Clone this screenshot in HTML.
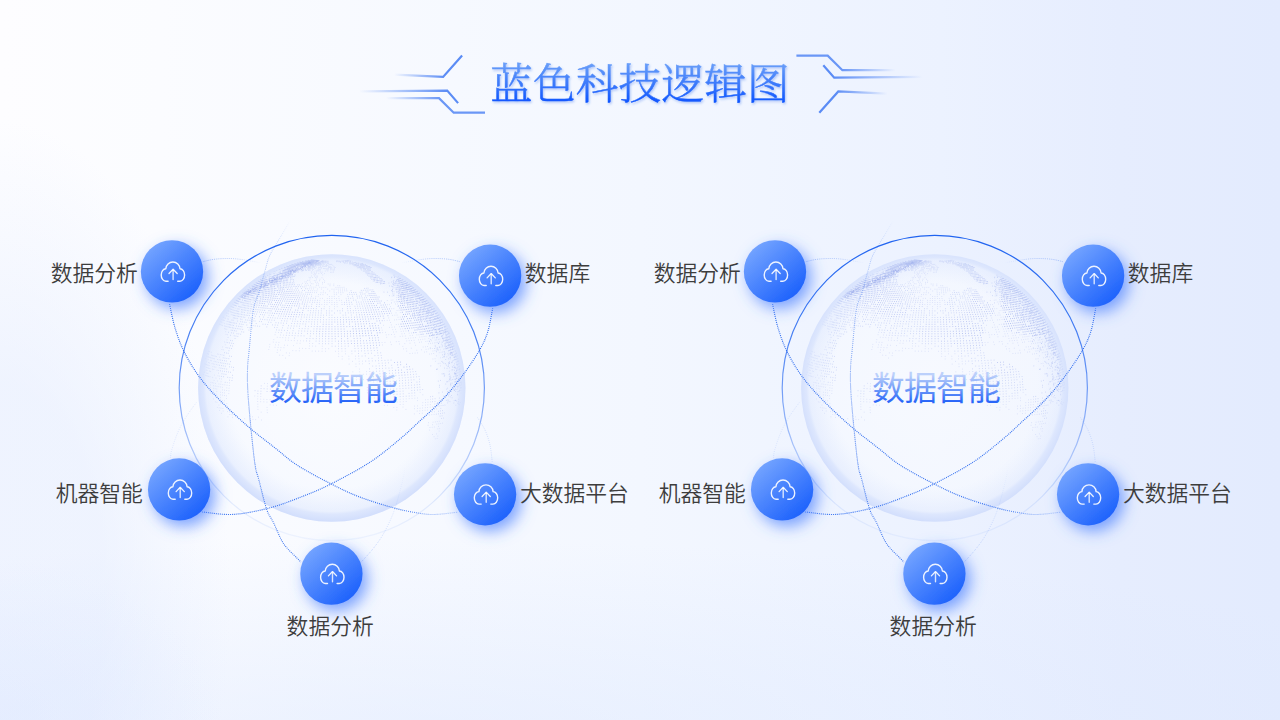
<!DOCTYPE html>
<html lang="zh-CN">
<head>
<meta charset="utf-8">
<title>蓝色科技逻辑图</title>
<style>
html,body{margin:0;padding:0;width:1280px;height:720px;overflow:hidden;background:#f4f7ff;}
body{font-family:"Liberation Sans","Noto Sans CJK SC",sans-serif;}
#stage{position:absolute;left:0;top:0;width:1280px;height:720px;
background:
 radial-gradient(ellipse 220px 170px at 0px 730px, rgba(218,229,254,0.3) 0%, rgba(218,229,254,0) 100%),
 radial-gradient(ellipse 230px 480px at 0px 600px, rgba(220,231,254,0.42) 0%, rgba(220,231,254,0.42) 45%, rgba(220,231,254,0) 100%),
 radial-gradient(ellipse 1100px 200px at 420px 740px, rgba(215,228,254,0.42) 0%, rgba(215,228,254,0) 100%),
 linear-gradient(to right, #fdfdff 0%, #fbfcff 12.5%, #f3f7ff 50%, #ecf2ff 73.5%, #e6edfe 87.5%, #e3ebfe 100%);}
svg{position:absolute;left:0;top:0;}
.sans{font-family:"Liberation Sans","Noto Sans CJK SC",sans-serif;}
.lbl{font-weight:350;}
.serif{font-family:"Liberation Serif","Noto Serif CJK SC",serif;}
</style>
</head>
<body>
<div id="stage">
<svg width="1280" height="720" viewBox="0 0 1280 720">
<defs>
<linearGradient id="titleGrad" gradientUnits="userSpaceOnUse" x1="0" y1="63" x2="0" y2="103">
<stop offset="0" stop-color="#6a9ff9"/><stop offset="0.5" stop-color="#3d7bfb"/><stop offset="1" stop-color="#0d54ff"/>
</linearGradient>
<linearGradient id="centerText" gradientUnits="userSpaceOnUse" x1="0" y1="372" x2="0" y2="403">
<stop offset="0.1" stop-color="#bcd0fb"/><stop offset="0.55" stop-color="#6f9af8"/><stop offset="0.95" stop-color="#2a66f8"/>
</linearGradient>
<linearGradient id="nodeFill" x1="0.15" y1="0.1" x2="0.85" y2="0.9">
<stop offset="0" stop-color="#74a4ff"/><stop offset="1" stop-color="#1c61fc"/>
</linearGradient>
<filter id="nodeShadow" x="-50%" y="-50%" width="200%" height="200%">
<feDropShadow dx="5" dy="6" stdDeviation="7.5" flood-color="#4078ff" flood-opacity="0.68"/>
</filter>
<filter id="titleShadow" x="-10%" y="-20%" width="120%" height="150%">
<feDropShadow dx="1" dy="1.5" stdDeviation="1.2" flood-color="#2a63e8" flood-opacity="0.35"/>
</filter>
<radialGradient id="globeFill" cx="0.5" cy="0.5" r="0.5">
<stop offset="0" stop-color="#fbfcff" stop-opacity="0.7"/>
<stop offset="0.8" stop-color="#f6f9ff" stop-opacity="0.75"/>
<stop offset="1" stop-color="#eef3ff" stop-opacity="0.95"/>
</radialGradient>
<radialGradient id="globeRim" cx="0.5" cy="0.492" r="0.508">
<stop offset="0.76" stop-color="#dce6fd" stop-opacity="0"/>
<stop offset="0.925" stop-color="#dae5fd" stop-opacity="0.35"/>
<stop offset="0.945" stop-color="#d8e3fd" stop-opacity="0.78"/>
<stop offset="1" stop-color="#cfdcfc" stop-opacity="0.92"/>
</radialGradient>
<linearGradient id="ringStroke" x1="0" y1="0" x2="0" y2="1">
<stop offset="0" stop-color="#1f63f0" stop-opacity="1"/>
<stop offset="0.25" stop-color="#2668f0" stop-opacity="0.9"/>
<stop offset="0.5" stop-color="#3270f1" stop-opacity="0.68"/>
<stop offset="0.72" stop-color="#4d82f3" stop-opacity="0.4"/>
<stop offset="0.88" stop-color="#5a8cf5" stop-opacity="0.15"/>
<stop offset="1" stop-color="#5a8cf5" stop-opacity="0.07"/>
</linearGradient>
<linearGradient id="fA1" gradientUnits="userSpaceOnUse" x1="203" y1="0" x2="262" y2="0">
<stop offset="0" stop-color="#6a95f6" stop-opacity="0.6"/><stop offset="0.6" stop-color="#6a95f6" stop-opacity="0.4"/><stop offset="1" stop-color="#6a95f6" stop-opacity="0"/>
</linearGradient>
<linearGradient id="fA2" gradientUnits="userSpaceOnUse" x1="460" y1="0" x2="401" y2="0">
<stop offset="0" stop-color="#6a95f6" stop-opacity="0.6"/><stop offset="0.6" stop-color="#6a95f6" stop-opacity="0.4"/><stop offset="1" stop-color="#6a95f6" stop-opacity="0"/>
</linearGradient>
<linearGradient id="fD" gradientUnits="userSpaceOnUse" x1="0" y1="562" x2="0" y2="465">
<stop offset="0" stop-color="#6a95f6" stop-opacity="0.45"/><stop offset="0.5" stop-color="#6a95f6" stop-opacity="0.25"/><stop offset="1" stop-color="#6a95f6" stop-opacity="0"/>
</linearGradient>
<linearGradient id="orb1Stroke" gradientUnits="userSpaceOnUse" x1="160" y1="0" x2="460" y2="0">
<stop offset="0" stop-color="#2f6df0" stop-opacity="1"/>
<stop offset="0.78" stop-color="#2f6df0" stop-opacity="1"/>
<stop offset="0.9" stop-color="#4a80f3" stop-opacity="0.6"/>
<stop offset="1" stop-color="#5a8cf5" stop-opacity="0.45"/>
</linearGradient>
<linearGradient id="orb3Stroke" gradientUnits="userSpaceOnUse" x1="0" y1="220" x2="0" y2="560">
<stop offset="0" stop-color="#4a7ef2" stop-opacity="0"/>
<stop offset="0.1" stop-color="#4a7ef2" stop-opacity="0.35"/>
<stop offset="0.35" stop-color="#3b74ee" stop-opacity="0.6"/>
<stop offset="0.7" stop-color="#336eee" stop-opacity="0.95"/>
<stop offset="1" stop-color="#336eee" stop-opacity="0.95"/>
</linearGradient>
<linearGradient id="fadeL1" gradientUnits="userSpaceOnUse" x1="394" y1="0" x2="445" y2="0">
<stop offset="0" stop-color="#5b8cf5" stop-opacity="0"/><stop offset="1" stop-color="#5b8cf5" stop-opacity="1"/>
</linearGradient>
<linearGradient id="fadeL2" gradientUnits="userSpaceOnUse" x1="359" y1="0" x2="448" y2="0">
<stop offset="0" stop-color="#5b8cf5" stop-opacity="0"/><stop offset="1" stop-color="#5b8cf5" stop-opacity="1"/>
</linearGradient>
<linearGradient id="fadeL3" gradientUnits="userSpaceOnUse" x1="386" y1="0" x2="440" y2="0">
<stop offset="0" stop-color="#5b8cf5" stop-opacity="0"/><stop offset="1" stop-color="#5b8cf5" stop-opacity="0.9"/>
</linearGradient>
</defs>
<g fill="none" stroke-width="2.2" stroke-linejoin="miter">
<path d="M394.4 74.7L443.1 76.9L462.1 55.6" stroke="url(#fadeL1)"/>
<path d="M359.4 91.4L447.2 90.6L458.1 103.1" stroke="url(#fadeL2)"/>
<path d="M386.2 98.1H439L453.7 112.7H485" stroke="url(#fadeL3)"/>
</g>
<g transform="rotate(180 640.7 84.15)"><g fill="none" stroke-width="2.2" stroke-linejoin="miter">
<path d="M394.4 74.7L443.1 76.9L462.1 55.6" stroke="url(#fadeL1)"/>
<path d="M359.4 91.4L447.2 90.6L458.1 103.1" stroke="url(#fadeL2)"/>
<path d="M386.2 98.1H439L453.7 112.7H485" stroke="url(#fadeL3)"/>
</g></g>
<text x="640" y="98.5" text-anchor="middle" font-size="42.6" letter-spacing="0.2" font-weight="300" fill="url(#titleGrad)" stroke="url(#titleGrad)" stroke-width="0.45" filter="url(#titleShadow)" class="serif">蓝色科技逻辑图</text>
<g transform="translate(0 0)">
<circle cx="331.8" cy="388.0" r="133.7" fill="url(#globeFill)"/>
<g id="globeDots" fill="none" stroke="#8598e6" stroke-width="0.75"><path d="M219.9 321.6h.7M221.3 319.3h.7M222.7 317.1h.7M228.9 308.4h.7M201.8 382.2h.7M202.6 374.2h.7M203.8 366.4h.7M204.3 363.8h.7M205.4 358.6h.7M206.1 356.0h.7M206.8 353.5h.7M219.1 324.2h.7M223.2 317.4h.7M226.2 313.0h.7M227.8 310.8h.7M202.7 379.9h.7M203.3 374.6h.7M203.6 372.0h.7M205.0 364.1h.7M207.5 353.8h.7M208.3 351.3h.7M219.8 324.5h.7M221.1 322.2h.7M222.4 319.9h.7M226.8 313.3h.7M228.4 311.1h.7M229.9 309.0h.7M204.4 372.3h.7M205.8 364.5h.7M206.3 361.9h.7M207.6 356.7h.7M208.3 354.2h.7M209.0 351.6h.7M223.1 320.2h.7M224.5 318.0h.7M226.0 315.7h.7M230.6 309.3h.7M267.4 275.6h.7M269.6 274.3h.7M205.0 375.3h.7M205.8 370.1h.7M206.2 367.5h.7M206.7 364.9h.7M207.8 359.7h.7M208.5 357.1h.7M221.3 325.1h.7M222.6 322.8h.7M223.9 320.5h.7M225.3 318.3h.7M226.8 316.0h.7M228.2 313.8h.7M229.8 311.7h.7M231.3 309.5h.7M265.6 277.2h.7M267.8 275.8h.7M270.1 274.4h.7M279.2 269.5h.7M206.0 375.7h.7M206.4 373.1h.7M206.8 370.4h.7M207.2 367.8h.7M207.7 365.2h.7M208.2 362.6h.7M209.5 357.4h.7M210.9 352.3h.7M222.1 325.4h.7M230.6 312.0h.7M232.1 309.8h.7M233.7 307.7h.7M266.2 277.4h.7M270.6 274.6h.7M275.0 272.0h.7M279.6 269.6h.7M207.1 376.0h.7M207.5 373.4h.7M208.3 368.2h.7M208.8 365.6h.7M209.3 363.0h.7M209.9 360.4h.7M210.5 357.8h.7M211.2 355.2h.7M224.4 323.4h.7M227.1 318.9h.7M228.5 316.6h.7M231.4 312.2h.7M233.0 310.1h.7M268.9 276.2h.7M273.3 273.5h.7M280.1 269.8h.7M282.4 268.6h.7M208.3 376.4h.7M209.0 371.1h.7M209.5 368.5h.7M211.1 360.7h.7M211.7 358.1h.7M212.4 355.6h.7M224.1 326.0h.7M226.7 321.4h.7M228.1 319.2h.7M230.9 314.7h.7M232.4 312.5h.7M233.9 310.4h.7M235.5 308.3h.7M269.5 276.3h.7M273.9 273.6h.7M209.6 376.7h.7M210.3 371.5h.7M211.7 363.6h.7M212.9 358.5h.7M213.6 355.9h.7M224.0 328.7h.7M225.3 326.3h.7M226.5 324.0h.7M227.8 321.7h.7M232.0 315.0h.7M233.4 312.8h.7M234.9 310.6h.7M270.1 276.5h.7M274.5 273.8h.7M283.4 268.9h.7M210.0 392.9h.7M210.1 390.3h.7M210.1 387.6h.7M210.3 385.0h.7M210.5 382.4h.7M212.1 369.2h.7M212.6 366.6h.7M213.1 364.0h.7M213.7 361.4h.7M214.3 358.8h.7M214.9 356.2h.7M225.2 329.0h.7M226.4 326.6h.7M227.7 324.3h.7M273.0 275.3h.7M279.5 271.4h.7M281.7 270.2h.7M283.9 269.0h.7M211.9 382.7h.7M212.4 377.4h.7M213.5 369.5h.7M214.0 366.9h.7M214.5 364.3h.7M215.1 361.7h.7M216.3 356.6h.7M217.0 354.0h.7M225.4 331.7h.7M226.5 329.3h.7M273.7 275.5h.7M275.8 274.1h.7M277.9 272.8h.7M280.1 271.5h.7M282.3 270.3h.7M213.1 398.9h.7M213.0 393.6h.7M213.1 391.0h.7M213.2 388.3h.7M213.3 385.7h.7M213.5 383.0h.7M213.7 380.4h.7M214.3 375.1h.7M215.5 367.2h.7M216.0 364.6h.7M216.6 362.0h.7M217.2 359.5h.7M218.5 354.3h.7M225.7 334.4h.7M276.5 274.3h.7M278.6 273.0h.7M214.9 401.9h.7M214.7 393.9h.7M214.8 388.7h.7M214.9 386.0h.7M215.1 383.4h.7M215.6 378.1h.7M216.7 370.2h.7M217.6 365.0h.7M218.2 362.4h.7M218.8 359.8h.7M219.4 357.2h.7M220.1 354.6h.7M221.6 349.5h.7M222.4 347.0h.7M224.2 342.0h.7M227.1 334.7h.7M216.9 407.4h.7M216.6 402.2h.7M216.4 394.3h.7M216.5 391.6h.7M216.5 389.0h.7M216.7 386.3h.7M217.0 381.0h.7M217.6 375.8h.7M218.0 373.1h.7M218.4 370.5h.7M218.8 367.9h.7M221.7 354.9h.7M223.2 349.8h.7M224.9 344.8h.7M225.8 342.3h.7M226.7 339.9h.7M219.0 410.4h.7M218.8 407.8h.7M218.6 405.1h.7M218.5 386.7h.7M218.6 384.0h.7M219.1 378.7h.7M219.4 376.1h.7M221.2 413.3h.7M220.6 408.1h.7M220.3 402.8h.7M220.1 397.6h.7M220.1 394.9h.7M220.2 392.3h.7M220.4 387.0h.7M220.5 384.3h.7M220.7 381.7h.7M221.0 379.0h.7M222.8 411.0h.7M222.6 408.4h.7M222.2 400.5h.7M222.1 395.2h.7M222.1 392.6h.7M222.2 389.9h.7M222.3 387.3h.7M222.5 384.6h.7M224.2 400.8h.7M224.2 395.5h.7M224.2 392.9h.7M224.3 390.2h.7M224.5 384.9h.7M227.6 416.8h.7M227.0 411.6h.7M226.8 409.0h.7M226.6 406.4h.7M226.5 403.7h.7M226.3 398.5h.7M226.3 395.8h.7M226.4 390.5h.7M226.5 387.9h.7M226.7 385.2h.7M226.9 382.6h.7M229.5 414.5h.7M229.2 411.9h.7M229.0 409.3h.7M228.5 393.5h.7M228.6 390.8h.7M228.7 388.2h.7M228.9 385.5h.7M229.1 382.9h.7M232.0 417.4h.7M231.7 414.8h.7M231.5 412.2h.7M293.0 270.5h.7M294.8 269.3h.7M296.6 268.2h.7M298.5 267.1h.7M302.2 265.1h.7M297.5 268.3h.7M301.1 266.1h.7M302.9 265.2h.7M304.8 264.2h.7M293.2 272.0h.7M298.4 268.4h.7M300.1 267.3h.7M301.9 266.2h.7M303.7 265.2h.7M294.2 272.1h.7M297.6 269.6h.7M299.3 268.5h.7M301.0 267.4h.7M302.7 266.3h.7M306.2 264.4h.7M244.4 418.7h.7M295.3 272.2h.7M303.6 266.4h.7M305.2 265.4h.7M306.9 264.4h.7M299.6 269.8h.7M304.4 266.5h.7M306.0 265.5h.7M307.7 264.5h.7M250.1 421.7h.7M249.8 419.2h.7M297.6 272.4h.7M300.6 269.9h.7M302.2 268.7h.7M305.3 266.5h.7M306.9 265.5h.7M308.5 264.6h.7M252.6 419.4h.7M252.3 416.8h.7M301.7 270.0h.7M303.2 268.8h.7M307.7 265.6h.7M255.4 419.6h.7M254.5 396.0h.7M302.7 270.1h.7M304.2 268.9h.7M258.1 417.2h.7M257.6 409.4h.7M257.5 406.8h.7M257.5 404.2h.7M257.4 401.5h.7M257.4 398.9h.7M257.5 396.3h.7M261.3 420.0h.7M260.8 412.2h.7M260.4 401.7h.7M260.4 399.1h.7M260.5 396.5h.7M263.5 401.9h.7M263.5 399.3h.7M264.0 383.4h.7M268.5 349.5h.7M269.0 346.9h.7M269.5 344.4h.7M319.2 260.7h.7M266.9 412.6h.7M266.8 410.0h.7M266.7 407.4h.7M266.6 402.1h.7M266.6 399.5h.7M266.9 386.2h.7M267.1 383.6h.7M272.9 342.1h.7M273.5 339.6h.7M274.7 334.7h.7M275.4 332.3h.7M269.8 404.9h.7M269.7 399.7h.7M269.8 391.7h.7M269.9 389.1h.7M274.7 347.3h.7M275.2 344.8h.7M275.8 342.3h.7M276.9 337.3h.7M278.1 332.5h.7M317.9 262.3h.7M272.9 405.1h.7M272.9 402.5h.7M272.9 399.8h.7M272.9 397.2h.7M273.0 394.5h.7M273.2 386.6h.7M273.4 383.9h.7M276.8 352.5h.7M277.2 350.0h.7M277.7 347.4h.7M278.1 344.9h.7M278.6 342.4h.7M279.7 337.5h.7M280.2 335.0h.7M309.6 270.5h.7M276.2 405.3h.7M276.2 394.7h.7M276.3 392.0h.7M276.3 389.4h.7M279.4 355.2h.7M280.2 350.1h.7M280.6 347.6h.7M282.5 337.6h.7M283.1 335.2h.7M301.0 285.0h.7M301.9 283.4h.7M311.9 269.4h.7M279.4 400.1h.7M279.5 394.9h.7M279.5 392.2h.7M279.6 389.5h.7M279.8 384.2h.7M280.0 381.6h.7M282.5 355.4h.7M283.6 347.7h.7M284.1 345.2h.7M285.0 340.2h.7M285.4 337.8h.7M304.6 281.9h.7M311.1 271.9h.7M312.0 270.6h.7M313.0 269.4h.7M314.0 268.3h.7M282.8 395.0h.7M283.1 384.4h.7M285.3 358.1h.7M285.9 352.9h.7M287.1 345.3h.7M287.9 340.3h.7M288.4 337.9h.7M304.6 285.2h.7M305.4 283.5h.7M306.3 281.9h.7M307.1 280.4h.7M308.8 277.4h.7M311.5 273.2h.7M315.1 268.3h.7M316.0 267.2h.7M322.7 260.8h.7M288.8 355.6h.7M289.1 353.1h.7M290.9 340.5h.7M305.7 286.9h.7M306.5 285.3h.7M307.2 283.6h.7M308.8 280.4h.7M309.6 278.9h.7M310.4 277.4h.7M311.2 276.0h.7M313.7 272.0h.7M322.4 261.6h.7M323.3 260.9h.7M292.5 350.6h.7M293.2 345.6h.7M293.9 340.6h.7M308.3 285.3h.7M309.8 282.1h.7M312.0 277.5h.7M313.5 274.7h.7M314.2 273.3h.7M315.8 270.8h.7M318.2 267.3h.7M319.8 265.2h.7M322.2 262.5h.7M323.0 261.7h.7M295.7 350.7h.7M296.6 343.2h.7M297.0 340.7h.7M308.9 288.8h.7M309.6 287.1h.7M310.2 285.4h.7M310.9 283.7h.7M314.2 276.1h.7M314.9 274.7h.7M315.6 273.4h.7M316.3 272.1h.7M317.1 270.8h.7M317.8 269.6h.7M318.5 268.4h.7M319.2 267.3h.7M320.0 266.3h.7M320.7 265.2h.7M321.5 264.3h.7M322.2 263.4h.7M323.0 262.5h.7M323.7 261.7h.7M324.5 260.9h.7M298.9 350.8h.7M299.2 348.3h.7M299.7 343.3h.7M300.0 340.8h.7M310.4 290.7h.7M310.9 288.9h.7M311.5 287.1h.7M312.7 283.8h.7M313.9 280.6h.7M315.1 277.6h.7M315.8 276.1h.7M318.3 270.8h.7M319.0 269.6h.7M320.3 267.3h.7M323.0 263.4h.7M324.4 261.7h.7M325.1 260.9h.7M302.3 348.4h.7M303.1 340.9h.7M311.4 294.4h.7M311.9 292.5h.7M312.4 290.7h.7M313.0 288.9h.7M313.5 287.2h.7M315.1 282.2h.7M315.6 280.6h.7M316.2 279.1h.7M316.7 277.6h.7M317.3 276.2h.7M318.5 273.4h.7M319.6 270.9h.7M320.2 269.7h.7M320.8 268.5h.7M321.4 267.4h.7M322.0 266.3h.7M322.6 265.3h.7M323.2 264.3h.7M324.5 262.5h.7M325.1 261.7h.7M305.5 348.5h.7M314.1 292.6h.7M314.5 290.8h.7M315.5 287.2h.7M315.9 285.5h.7M316.4 283.9h.7M316.9 282.3h.7M320.4 272.2h.7M323.1 266.3h.7M324.2 264.3h.7M324.7 263.4h.7M325.3 262.6h.7M325.8 261.7h.7M326.4 261.0h.7M308.8 348.5h.7M309.0 346.0h.7M309.2 343.5h.7M315.5 296.4h.7M316.3 292.6h.7M316.6 290.8h.7M317.0 289.0h.7M317.9 285.6h.7M318.3 283.9h.7M319.1 280.7h.7M319.6 279.2h.7M321.3 273.5h.7M321.8 272.2h.7M323.2 268.5h.7M324.1 266.4h.7M326.0 262.6h.7M311.8 351.1h.7M312.2 346.1h.7M312.4 343.5h.7M317.8 296.4h.7M318.1 294.5h.7M319.4 287.3h.7M321.6 277.7h.7M322.4 274.9h.7M324.4 268.6h.7M325.2 266.4h.7M325.6 265.4h.7M326.0 264.4h.7M327.2 261.8h.7M327.6 261.0h.7M315.1 351.2h.7M315.4 346.1h.7M319.3 302.4h.7M319.5 300.4h.7M319.8 298.4h.7M320.3 294.6h.7M320.6 292.7h.7M321.2 289.1h.7M321.5 287.4h.7M322.0 284.0h.7M322.3 282.4h.7M323.0 279.3h.7M324.2 273.6h.7M324.9 271.0h.7M325.5 268.6h.7M326.2 266.4h.7M326.5 265.4h.7M327.2 263.5h.7M327.6 262.6h.7M327.9 261.8h.7M318.4 351.2h.7M321.5 304.5h.7M322.1 298.4h.7M322.6 294.6h.7M322.8 292.7h.7M323.0 290.9h.7M323.5 287.4h.7M324.2 282.4h.7M324.4 280.8h.7M326.5 269.8h.7M326.7 268.6h.7M327.5 265.4h.7M328.1 263.5h.7M321.7 351.3h.7M321.8 348.7h.7M321.9 346.2h.7M323.9 306.6h.7M324.0 304.5h.7M324.2 302.4h.7M324.3 300.4h.7M325.0 292.8h.7M325.5 287.4h.7M327.5 271.0h.7M327.7 269.8h.7M327.9 268.6h.7M328.1 267.5h.7M328.3 266.4h.7M328.7 264.4h.7M325.0 351.3h.7M325.1 348.7h.7M326.6 304.5h.7M326.7 302.5h.7M326.8 300.5h.7M326.9 298.5h.7M327.1 294.6h.7M327.4 289.2h.7M327.8 284.0h.7M329.3 267.5h.7M329.4 266.4h.7M329.7 264.4h.7M328.4 348.7h.7M329.0 308.7h.7M329.0 306.6h.7M329.1 302.5h.7M329.2 300.5h.7M329.2 298.5h.7M329.3 296.5h.7M329.4 291.0h.7M329.6 285.7h.7M329.7 284.1h.7M330.1 272.3h.7M330.3 269.8h.7M330.3 268.6h.7M330.4 267.5h.7M330.5 266.4h.7M330.6 264.4h.7M331.6 304.5h.7M331.6 302.5h.7M331.6 300.5h.7M331.6 298.5h.7M331.6 296.6h.7M331.6 289.2h.7M331.5 272.3h.7M331.5 269.8h.7M331.5 268.6h.7M331.5 267.5h.7M331.5 264.4h.7M335.0 351.3h.7M334.2 308.7h.7M334.2 306.6h.7M334.1 304.5h.7M334.1 302.5h.7M334.0 298.5h.7M333.9 296.5h.7M333.9 294.6h.7M333.8 292.8h.7M333.7 291.0h.7M333.7 289.2h.7M333.5 285.7h.7M333.5 284.1h.7M332.9 272.3h.7M332.9 271.0h.7M332.8 269.8h.7M332.5 265.4h.7M338.4 356.4h.7M338.4 353.8h.7M338.3 351.3h.7M336.8 306.6h.7M336.7 304.5h.7M336.6 302.5h.7M336.5 300.5h.7M336.3 298.5h.7M336.1 294.6h.7M336.0 292.8h.7M335.8 289.2h.7M335.6 287.4h.7M334.1 269.8h.7M333.9 268.6h.7M333.8 267.5h.7M333.6 266.4h.7M341.8 359.0h.7M341.8 356.4h.7M341.6 351.2h.7M338.9 300.4h.7M338.7 298.5h.7M338.5 296.5h.7M338.2 292.8h.7M338.0 290.9h.7M337.8 289.1h.7M337.7 287.4h.7M337.5 285.7h.7M334.9 267.5h.7M345.0 353.8h.7M344.9 351.2h.7M341.5 302.4h.7M341.3 300.4h.7M340.6 294.6h.7M340.4 292.7h.7M340.2 290.9h.7M339.9 289.1h.7M339.7 287.4h.7M339.4 285.7h.7M348.8 364.1h.7M348.6 358.9h.7M348.5 356.3h.7M342.6 292.7h.7M342.3 290.9h.7M342.0 289.1h.7M341.7 287.4h.7M352.5 371.9h.7M352.1 361.4h.7M351.6 353.7h.7M345.8 298.4h.7M344.4 290.8h.7M344.1 289.1h.7M343.7 287.3h.7M356.3 379.8h.7M356.2 377.1h.7M355.7 366.6h.7M355.6 364.0h.7M355.3 358.8h.7M355.1 356.2h.7M347.3 294.5h.7M346.5 290.8h.7M346.1 289.0h.7M336.5 261.7h.7M336.0 261.0h.7M359.7 379.7h.7M359.6 377.1h.7M359.5 374.4h.7M359.4 371.8h.7M359.2 369.1h.7M358.9 363.9h.7M358.8 361.3h.7M358.6 358.7h.7M349.1 292.6h.7M336.6 261.0h.7M363.1 379.6h.7M362.9 374.3h.7M362.3 363.8h.7M362.1 361.2h.7M337.9 261.7h.7M337.3 260.9h.7M367.0 392.8h.7M366.9 390.1h.7M366.9 387.5h.7M366.6 379.5h.7M366.3 374.2h.7M366.1 371.6h.7M337.9 260.9h.7M370.5 398.0h.7M370.3 390.0h.7M370.2 384.7h.7M370.0 379.4h.7M369.8 376.8h.7M369.7 374.1h.7M340.0 262.5h.7M339.3 261.7h.7M373.9 397.9h.7M373.8 395.2h.7M373.8 392.6h.7M373.6 384.6h.7M373.4 382.0h.7M373.3 379.3h.7M339.9 261.7h.7M339.1 260.9h.7M377.3 403.0h.7M377.3 400.4h.7M377.2 392.5h.7M377.0 387.1h.7M376.9 384.5h.7M376.8 381.8h.7M340.6 261.6h.7M380.6 400.3h.7M380.6 395.0h.7M380.5 392.3h.7M380.4 389.7h.7M380.3 387.0h.7M383.9 405.4h.7M383.9 400.1h.7M383.9 397.5h.7M383.9 394.8h.7M383.8 392.2h.7M344.0 263.2h.7M343.0 262.4h.7M342.0 261.6h.7M340.9 260.8h.7M387.1 405.3h.7M387.2 400.0h.7M387.1 394.7h.7M382.2 345.0h.7M381.7 342.5h.7M344.8 263.2h.7M343.7 262.3h.7M390.4 402.5h.7M384.6 342.4h.7M382.4 332.6h.7M381.8 330.2h.7M381.2 327.8h.7M343.3 261.5h.7M342.1 260.8h.7M393.5 407.5h.7M393.6 399.6h.7M393.6 397.0h.7M386.4 337.3h.7M385.8 334.9h.7M385.2 332.4h.7M383.2 325.3h.7M346.3 263.1h.7M345.1 262.3h.7M396.5 410.0h.7M396.6 407.4h.7M396.7 402.1h.7M396.7 399.5h.7M390.9 344.6h.7M390.3 342.1h.7M388.5 334.7h.7M384.3 320.6h.7M347.1 263.1h.7M343.2 260.7h.7M399.8 404.5h.7M399.8 401.9h.7M399.8 399.3h.7M391.2 334.5h.7M389.1 327.4h.7M386.8 320.4h.7M349.1 263.9h.7M345.1 261.4h.7M343.8 260.7h.7M402.7 407.0h.7M402.8 404.4h.7M402.9 401.7h.7M402.9 399.1h.7M395.9 341.7h.7M394.6 336.8h.7M393.9 334.4h.7M393.2 332.0h.7M392.5 329.6h.7M391.7 327.2h.7M390.9 324.9h.7M390.1 322.5h.7M389.3 320.2h.7M388.4 318.0h.7M349.9 263.9h.7M347.1 262.1h.7M345.7 261.4h.7M405.6 409.4h.7M405.8 401.5h.7M405.8 398.9h.7M399.2 344.0h.7M398.6 341.5h.7M395.8 331.8h.7M395.0 329.4h.7M394.2 327.0h.7M353.6 265.7h.7M352.1 264.7h.7M350.7 263.8h.7M349.3 262.9h.7M346.3 261.3h.7M344.9 260.6h.7M408.8 398.7h.7M403.1 348.9h.7M402.5 346.4h.7M399.8 336.4h.7M395.9 324.5h.7M394.1 319.9h.7M392.2 315.4h.7M391.3 313.2h.7M387.1 304.7h.7M355.9 266.7h.7M354.4 265.7h.7M353.0 264.7h.7M351.5 263.8h.7M350.0 262.9h.7M346.9 261.3h.7M345.4 260.6h.7M411.7 398.4h.7M411.6 395.8h.7M406.4 351.2h.7M405.8 348.7h.7M404.5 343.6h.7M402.4 336.2h.7M401.6 333.8h.7M400.8 331.4h.7M400.0 329.0h.7M399.1 326.7h.7M398.3 324.3h.7M396.4 319.7h.7M394.5 315.2h.7M391.4 308.7h.7M390.3 306.6h.7M389.2 304.6h.7M386.9 300.5h.7M353.8 264.6h.7M352.2 263.7h.7M349.1 262.0h.7M347.5 261.2h.7M413.9 413.9h.7M414.2 408.7h.7M414.3 406.1h.7M414.5 398.2h.7M414.5 395.6h.7M409.6 353.5h.7M406.4 340.9h.7M405.6 338.5h.7M404.9 336.0h.7M404.1 333.6h.7M403.2 331.2h.7M402.4 328.8h.7M398.7 319.5h.7M397.7 317.3h.7M396.7 315.1h.7M395.7 312.9h.7M393.5 308.6h.7M352.9 263.6h.7M351.3 262.8h.7M349.7 262.0h.7M348.1 261.2h.7M346.4 260.5h.7M416.8 411.1h.7M417.0 408.5h.7M417.1 405.9h.7M417.2 400.6h.7M417.2 398.0h.7M412.2 353.3h.7M410.9 348.2h.7M409.6 343.2h.7M408.8 340.7h.7M408.1 338.3h.7M405.6 331.0h.7M399.9 317.1h.7M396.7 310.5h.7M390.8 300.2h.7M353.7 263.6h.7M352.0 262.7h.7M350.3 261.9h.7M346.9 260.4h.7M419.3 413.5h.7M419.5 410.9h.7M419.7 408.2h.7M419.8 392.4h.7M414.7 353.1h.7M411.3 340.5h.7M410.5 338.0h.7M409.7 335.6h.7M408.8 333.2h.7M399.9 312.5h.7M398.7 310.3h.7M395.2 304.0h.7M393.9 302.0h.7M392.6 300.0h.7M347.4 260.4h.7M421.9 413.2h.7M422.1 410.6h.7M422.3 408.0h.7M422.4 405.4h.7M422.5 402.7h.7M422.5 394.8h.7M417.2 352.9h.7M416.5 350.3h.7M415.2 345.3h.7M414.4 342.8h.7M413.7 340.3h.7M412.8 337.8h.7M412.0 335.4h.7M411.1 333.0h.7M397.0 303.9h.7M395.8 301.8h.7M391.8 296.0h.7M353.3 262.6h.7M349.7 261.0h.7M347.9 260.3h.7M424.0 418.1h.7M424.7 410.3h.7M424.9 407.7h.7M425.0 405.1h.7M425.1 402.5h.7M425.1 399.8h.7M415.1 337.6h.7M396.2 299.7h.7M393.5 295.8h.7M392.0 293.9h.7M353.9 262.5h.7M352.0 261.7h.7M350.2 261.0h.7M348.4 260.3h.7M427.2 410.1h.7M427.3 407.5h.7M427.5 404.8h.7M427.6 402.2h.7M427.6 399.6h.7M421.3 349.8h.7M419.0 342.3h.7M418.2 339.8h.7M416.5 334.9h.7M396.5 297.5h.7M393.7 293.8h.7M392.2 291.9h.7M354.5 262.5h.7M350.7 260.9h.7M427.7 425.3h.7M428.2 422.7h.7M429.1 415.0h.7M429.8 407.2h.7M429.9 404.6h.7M430.0 401.9h.7M430.0 399.3h.7M424.2 352.1h.7M422.8 347.0h.7M421.2 342.0h.7M420.4 339.6h.7M419.5 337.1h.7M418.6 334.7h.7M396.7 295.4h.7M393.7 291.7h.7M392.2 290.0h.7M357.0 263.2h.7M355.1 262.4h.7M349.2 260.2h.7M429.1 430.1h.7M429.6 427.5h.7M431.5 414.7h.7M431.7 412.1h.7M431.9 409.5h.7M432.1 406.9h.7M426.4 351.8h.7M425.7 349.3h.7M425.0 346.8h.7M422.5 339.3h.7M421.6 336.8h.7M392.0 288.0h.7M357.6 263.2h.7M355.6 262.3h.7M431.8 427.3h.7M432.3 424.7h.7M432.7 422.2h.7M433.7 414.4h.7M434.0 411.8h.7M429.3 354.1h.7M427.9 349.0h.7M427.1 346.5h.7M425.5 341.5h.7M424.6 339.0h.7M423.7 336.6h.7M395.0 289.6h.7M393.4 287.9h.7M358.2 263.1h.7M432.3 434.5h.7M433.9 427.0h.7M434.9 421.9h.7M432.6 359.0h.7M431.3 353.8h.7M429.9 348.7h.7M428.3 343.7h.7M427.5 341.2h.7M425.6 336.3h.7M394.7 287.7h.7M393.0 286.0h.7M358.7 263.0h.7M433.7 436.7h.7M436.5 424.1h.7M436.9 421.6h.7M435.2 361.3h.7M434.7 358.7h.7M433.4 353.5h.7M432.6 351.0h.7M431.9 348.5h.7M430.3 343.4h.7M429.4 341.0h.7M428.5 338.5h.7M396.0 287.5h.7M434.9 438.8h.7M436.3 433.9h.7M437.5 428.9h.7M438.0 426.4h.7M438.5 423.8h.7M438.9 421.3h.7M437.8 363.6h.7M436.0 355.8h.7M434.6 350.7h.7M432.2 343.2h.7M431.3 340.7h.7M395.4 285.6h.7M436.8 438.5h.7M437.5 436.1h.7M438.8 431.1h.7M439.4 428.6h.7M440.4 423.5h.7M440.2 365.9h.7M439.7 363.3h.7M435.6 347.9h.7M434.8 345.4h.7M434.0 342.9h.7M432.1 337.9h.7M442.3 423.2h.7M440.3 357.8h.7M438.9 352.7h.7M438.2 350.1h.7M437.4 347.6h.7M435.7 342.6h.7M434.8 340.1h.7M433.8 337.7h.7M395.8 283.6h.7M442.0 357.5h.7M440.7 352.3h.7M439.9 349.8h.7M439.1 347.3h.7M437.3 342.3h.7M436.4 339.8h.7M396.8 283.4h.7M443.7 357.2h.7M442.3 352.0h.7M440.7 347.0h.7M438.0 339.5h.7M437.0 337.1h.7M395.8 281.7h.7M444.6 354.3h.7M443.8 351.7h.7M443.0 349.2h.7M442.2 346.7h.7M441.3 344.2h.7M439.5 339.2h.7M444.5 348.9h.7M441.8 341.4h.7M447.4 353.6h.7M445.9 348.5h.7M444.1 343.5h.7M448.7 353.3h.7M396.8 277.4h.7M397.3 277.2h.7M460.7 393.0h.7" stroke-opacity="0.36"/><path d="M230.5 306.3h.7M232.2 304.2h.7M231.0 306.6h.7M233.2 304.8h.7M232.2 307.1h.7M233.9 305.1h.7M232.9 307.4h.7M234.6 305.4h.7M235.3 305.6h.7M237.0 303.6h.7M236.2 305.9h.7M237.8 303.8h.7M238.1 306.4h.7M241.3 302.3h.7M229.0 322.0h.7M233.1 315.3h.7M234.5 313.1h.7M236.0 310.9h.7M237.5 308.8h.7M239.1 306.7h.7M242.4 302.6h.7M227.7 326.9h.7M228.9 324.6h.7M230.2 322.3h.7M231.5 320.0h.7M232.9 317.8h.7M234.3 315.5h.7M235.7 313.4h.7M237.2 311.2h.7M238.7 309.1h.7M240.2 307.0h.7M241.8 304.9h.7M243.4 302.9h.7M229.1 327.2h.7M230.3 324.9h.7M231.5 322.6h.7M232.8 320.3h.7M234.2 318.0h.7M235.5 315.8h.7M237.0 313.6h.7M238.4 311.5h.7M241.4 307.2h.7M243.0 305.1h.7M244.6 303.1h.7M246.2 301.1h.7M228.2 332.3h.7M230.5 327.5h.7M231.7 325.2h.7M232.9 322.9h.7M235.5 318.3h.7M236.9 316.1h.7M238.3 313.9h.7M241.2 309.6h.7M242.7 307.5h.7M244.2 305.4h.7M245.8 303.3h.7M247.4 301.3h.7M219.3 365.3h.7M219.9 362.7h.7M220.4 360.1h.7M227.7 337.4h.7M230.8 330.2h.7M232.0 327.8h.7M233.2 325.5h.7M234.4 323.1h.7M236.9 318.6h.7M238.3 316.4h.7M239.6 314.1h.7M241.1 312.0h.7M242.5 309.8h.7M244.0 307.7h.7M245.5 305.6h.7M247.0 303.6h.7M248.6 301.6h.7M220.2 370.8h.7M220.6 368.2h.7M221.1 365.6h.7M221.6 363.0h.7M222.2 360.4h.7M222.8 357.8h.7M223.5 355.3h.7M224.2 352.7h.7M225.7 347.6h.7M227.4 342.6h.7M230.3 335.3h.7M231.3 332.8h.7M232.4 330.4h.7M233.5 328.1h.7M235.9 323.4h.7M237.1 321.1h.7M239.7 316.6h.7M241.1 314.4h.7M242.5 312.2h.7M243.9 310.1h.7M245.4 308.0h.7M246.9 305.9h.7M248.4 303.8h.7M249.9 301.8h.7M251.5 299.8h.7M221.3 376.4h.7M221.6 373.8h.7M222.0 371.1h.7M222.5 368.5h.7M222.9 365.9h.7M223.5 363.3h.7M224.0 360.7h.7M224.6 358.1h.7M226.0 353.0h.7M227.5 347.9h.7M229.2 342.9h.7M230.1 340.4h.7M233.0 333.1h.7M234.1 330.7h.7M235.2 328.4h.7M236.3 326.0h.7M240.0 319.1h.7M241.3 316.9h.7M242.6 314.7h.7M244.0 312.5h.7M245.4 310.3h.7M246.8 308.2h.7M248.3 306.1h.7M249.8 304.1h.7M252.9 300.0h.7M223.3 376.7h.7M223.6 374.1h.7M224.0 371.4h.7M224.4 368.8h.7M224.9 366.2h.7M225.4 363.6h.7M225.9 361.0h.7M226.5 358.4h.7M227.8 353.3h.7M228.6 350.7h.7M229.3 348.2h.7M230.1 345.7h.7M231.0 343.2h.7M231.9 340.7h.7M233.8 335.8h.7M235.8 331.0h.7M236.9 328.6h.7M238.0 326.3h.7M239.2 323.9h.7M240.4 321.6h.7M241.6 319.4h.7M242.9 317.1h.7M244.2 314.9h.7M246.9 310.6h.7M248.3 308.4h.7M249.7 306.3h.7M251.2 304.3h.7M252.7 302.3h.7M254.3 300.3h.7M224.8 382.3h.7M225.6 374.4h.7M226.0 371.7h.7M226.4 369.1h.7M227.4 363.9h.7M228.5 358.7h.7M229.1 356.1h.7M231.3 348.5h.7M232.0 346.0h.7M232.9 343.5h.7M234.7 338.5h.7M235.6 336.1h.7M236.6 333.7h.7M238.7 328.9h.7M239.8 326.5h.7M240.9 324.2h.7M242.1 321.9h.7M244.5 317.4h.7M245.8 315.2h.7M247.1 313.0h.7M248.5 310.8h.7M249.9 308.7h.7M251.3 306.6h.7M252.7 304.5h.7M255.7 300.5h.7M227.4 377.3h.7M228.1 372.0h.7M229.0 366.8h.7M229.4 364.2h.7M230.0 361.6h.7M231.2 356.4h.7M237.5 336.4h.7M238.5 333.9h.7M240.5 329.1h.7M241.6 326.8h.7M242.7 324.5h.7M243.9 322.2h.7M245.1 319.9h.7M247.5 315.4h.7M248.8 313.2h.7M250.1 311.0h.7M251.5 308.9h.7M252.9 306.8h.7M254.3 304.7h.7M255.7 302.7h.7M257.2 300.7h.7M229.3 380.2h.7M229.6 377.6h.7M230.3 372.3h.7M231.1 367.1h.7M240.4 334.2h.7M241.4 331.8h.7M242.4 329.4h.7M245.7 322.4h.7M246.9 320.1h.7M248.1 317.9h.7M249.3 315.6h.7M250.6 313.4h.7M251.8 311.3h.7M254.5 307.0h.7M255.9 304.9h.7M257.3 302.9h.7M231.6 380.5h.7M231.9 377.9h.7M232.2 375.3h.7M232.9 370.0h.7M233.3 367.4h.7M243.4 332.0h.7M246.5 325.0h.7M248.8 320.3h.7M249.9 318.1h.7M253.6 311.5h.7M254.9 309.3h.7M256.2 307.2h.7M257.6 305.2h.7M247.5 327.5h.7M249.6 322.9h.7M250.7 320.6h.7M251.8 318.3h.7M254.2 313.9h.7M255.4 311.7h.7M256.7 309.6h.7M258.0 307.4h.7M259.3 305.4h.7M248.6 330.1h.7M249.5 327.8h.7M250.6 325.4h.7M251.6 323.1h.7M252.7 320.8h.7M253.8 318.5h.7M254.9 316.3h.7M256.1 314.1h.7M257.3 311.9h.7M258.6 309.8h.7M259.8 307.6h.7M251.7 328.0h.7M252.7 325.6h.7M254.7 321.0h.7M259.3 312.1h.7M260.5 310.0h.7M254.8 325.9h.7M255.8 323.5h.7M259.0 316.7h.7M260.1 314.5h.7M261.3 312.3h.7M262.4 310.2h.7M257.1 326.1h.7M259.0 321.4h.7M260.1 319.2h.7M262.2 314.7h.7M263.3 312.5h.7M259.4 326.3h.7M261.3 321.6h.7M262.2 319.4h.7M263.3 317.1h.7M264.3 314.9h.7M265.4 312.7h.7M283.0 285.6h.7M284.4 283.9h.7M285.9 282.3h.7M287.3 280.7h.7M262.6 324.2h.7M264.5 319.6h.7M267.5 312.9h.7M284.6 285.7h.7M285.9 284.1h.7M287.3 282.4h.7M290.2 279.3h.7M291.6 277.9h.7M293.1 276.4h.7M264.9 324.3h.7M266.8 319.8h.7M267.7 317.5h.7M268.7 315.3h.7M269.7 313.1h.7M284.9 287.5h.7M286.2 285.8h.7M287.5 284.2h.7M288.8 282.6h.7M290.2 281.0h.7M291.6 279.5h.7M294.4 276.5h.7M254.7 390.7h.7M266.5 326.9h.7M267.4 324.5h.7M268.2 322.2h.7M269.1 319.9h.7M270.0 317.7h.7M271.0 315.4h.7M286.5 287.7h.7M287.8 286.0h.7M289.1 284.3h.7M290.4 282.7h.7M293.0 279.6h.7M257.5 393.6h.7M257.6 391.0h.7M270.6 322.4h.7M271.5 320.1h.7M272.4 317.8h.7M273.3 315.6h.7M288.3 287.8h.7M289.5 286.1h.7M290.7 284.4h.7M292.0 282.8h.7M293.2 281.2h.7M260.5 393.8h.7M260.6 391.2h.7M260.7 388.5h.7M260.8 385.9h.7M272.3 324.9h.7M273.9 320.3h.7M274.8 318.0h.7M288.9 289.7h.7M290.0 287.9h.7M291.2 286.2h.7M292.4 284.5h.7M293.6 282.9h.7M305.0 270.2h.7M263.7 388.7h.7M274.1 327.4h.7M274.8 325.0h.7M275.6 322.7h.7M277.2 318.2h.7M278.0 315.9h.7M290.7 289.8h.7M291.8 288.0h.7M292.9 286.3h.7M294.0 284.6h.7M306.1 270.3h.7M307.4 269.1h.7M266.7 391.5h.7M266.8 388.9h.7M276.0 329.9h.7M276.7 327.5h.7M277.4 325.2h.7M278.1 322.9h.7M279.7 318.3h.7M280.5 316.1h.7M292.5 289.9h.7M294.7 286.4h.7M308.5 269.2h.7M309.7 268.0h.7M278.7 330.1h.7M280.7 323.0h.7M281.4 320.7h.7M282.2 318.5h.7M282.9 316.2h.7M293.4 291.8h.7M294.4 290.0h.7M295.4 288.2h.7M296.4 286.5h.7M297.5 284.8h.7M308.4 270.4h.7M309.6 269.2h.7M310.7 268.1h.7M311.9 267.0h.7M280.8 332.6h.7M281.4 330.2h.7M282.0 327.8h.7M282.7 325.5h.7M283.3 323.2h.7M284.0 320.9h.7M284.7 318.6h.7M295.4 291.9h.7M296.3 290.1h.7M297.3 288.3h.7M298.2 286.6h.7M299.2 284.9h.7M311.8 268.2h.7M312.9 267.1h.7M314.0 266.0h.7M284.2 330.4h.7M286.0 323.3h.7M286.6 321.0h.7M287.3 318.7h.7M296.5 293.9h.7M297.4 292.0h.7M298.3 290.2h.7M300.1 286.7h.7M313.9 267.1h.7M315.0 266.1h.7M316.1 265.1h.7M317.1 264.1h.7M319.3 262.3h.7M320.4 261.5h.7M321.5 260.8h.7M285.9 335.3h.7M286.5 332.9h.7M287.0 330.5h.7M287.5 328.1h.7M288.1 325.7h.7M289.9 318.8h.7M298.6 293.9h.7M299.4 292.1h.7M301.1 288.5h.7M301.9 286.8h.7M317.0 265.1h.7M318.0 264.1h.7M319.0 263.2h.7M320.0 262.4h.7M321.0 261.6h.7M322.1 260.8h.7M288.8 335.4h.7M289.3 333.0h.7M290.3 328.2h.7M290.9 325.9h.7M291.4 323.5h.7M292.0 321.2h.7M292.6 319.0h.7M299.9 295.9h.7M300.7 294.0h.7M301.5 292.2h.7M302.2 290.4h.7M303.8 286.9h.7M317.9 265.1h.7M318.8 264.2h.7M319.8 263.3h.7M321.7 261.6h.7M291.8 335.5h.7M292.2 333.1h.7M292.7 330.7h.7M293.2 328.3h.7M293.7 326.0h.7M294.2 323.6h.7M294.7 321.3h.7M295.2 319.1h.7M301.4 297.9h.7M302.1 296.0h.7M302.8 294.1h.7M304.2 290.5h.7M305.0 288.7h.7M318.8 265.2h.7M319.7 264.2h.7M320.6 263.3h.7M321.5 262.4h.7M294.3 338.1h.7M294.7 335.7h.7M295.1 333.2h.7M296.5 326.1h.7M296.9 323.7h.7M297.4 321.4h.7M298.4 316.9h.7M303.0 300.0h.7M303.6 298.0h.7M304.3 296.1h.7M304.9 294.2h.7M305.6 292.3h.7M306.9 288.8h.7M320.6 264.2h.7M297.7 335.8h.7M298.1 333.3h.7M298.5 330.9h.7M298.9 328.5h.7M299.3 326.2h.7M299.7 323.8h.7M300.2 321.5h.7M300.7 319.2h.7M301.1 317.0h.7M304.8 302.1h.7M305.3 300.1h.7M305.9 298.1h.7M306.5 296.2h.7M307.1 294.3h.7M307.7 292.4h.7M308.3 290.6h.7M300.7 335.8h.7M301.1 333.4h.7M301.4 331.0h.7M301.8 328.6h.7M302.6 323.9h.7M303.0 321.6h.7M303.8 317.1h.7M304.3 314.8h.7M306.6 304.2h.7M307.1 302.1h.7M307.7 300.1h.7M308.2 298.2h.7M309.3 294.3h.7M309.8 292.5h.7M303.7 335.9h.7M304.4 331.1h.7M304.7 328.7h.7M305.1 326.3h.7M305.4 324.0h.7M305.8 321.7h.7M306.2 319.4h.7M306.5 317.2h.7M306.9 314.9h.7M307.8 310.6h.7M308.2 308.4h.7M308.6 306.3h.7M309.5 302.2h.7M310.0 300.2h.7M310.5 298.2h.7M311.0 296.3h.7M306.3 340.9h.7M306.5 338.5h.7M307.1 333.6h.7M307.4 331.2h.7M307.7 328.8h.7M308.0 326.4h.7M308.6 321.8h.7M308.9 319.5h.7M309.3 317.2h.7M309.6 315.0h.7M310.0 312.8h.7M310.4 310.6h.7M310.8 308.5h.7M311.1 306.4h.7M311.5 304.3h.7M312.0 302.3h.7M312.4 300.3h.7M312.8 298.3h.7M309.4 341.0h.7M309.6 338.5h.7M309.9 336.1h.7M310.1 333.6h.7M310.4 331.2h.7M310.9 326.5h.7M311.2 324.1h.7M311.5 321.8h.7M311.7 319.5h.7M312.0 317.3h.7M312.4 315.0h.7M312.7 312.8h.7M313.0 310.7h.7M313.3 308.5h.7M314.4 302.3h.7M314.7 300.3h.7M315.1 298.3h.7M312.7 338.6h.7M313.2 333.7h.7M313.4 331.3h.7M313.6 328.9h.7M313.8 326.5h.7M314.1 324.2h.7M314.3 321.9h.7M314.6 319.6h.7M314.8 317.3h.7M315.1 315.1h.7M315.4 312.9h.7M315.6 310.7h.7M315.9 308.6h.7M316.2 306.5h.7M316.5 304.4h.7M316.8 302.4h.7M317.1 300.3h.7M315.7 341.1h.7M315.9 338.6h.7M316.0 336.2h.7M316.2 333.7h.7M317.0 324.2h.7M317.2 321.9h.7M317.4 319.6h.7M317.6 317.4h.7M317.8 315.1h.7M318.1 312.9h.7M318.3 310.8h.7M318.8 306.5h.7M319.0 304.4h.7M318.8 343.6h.7M318.9 341.1h.7M319.0 338.7h.7M319.1 336.2h.7M320.1 322.0h.7M320.2 319.7h.7M320.4 317.4h.7M320.6 315.2h.7M320.8 313.0h.7M320.9 310.8h.7M321.1 308.7h.7M322.0 343.7h.7M322.1 341.2h.7M322.2 338.7h.7M322.9 322.0h.7M323.1 319.7h.7M323.2 317.4h.7M323.3 315.2h.7M323.7 308.7h.7M325.2 343.7h.7M325.3 341.2h.7M325.3 338.7h.7M325.8 322.0h.7M325.9 319.7h.7M326.1 315.2h.7M326.2 313.0h.7M326.3 310.8h.7M328.4 343.7h.7M328.5 341.2h.7M328.7 322.0h.7M328.8 319.7h.7M328.8 317.5h.7M328.9 315.2h.7M328.9 313.0h.7M328.9 310.9h.7M331.7 346.2h.7M331.7 343.7h.7M331.7 341.2h.7M331.6 319.7h.7M331.6 317.5h.7M331.6 315.2h.7M331.6 310.9h.7M334.9 346.2h.7M334.9 341.2h.7M334.5 319.7h.7M334.4 317.5h.7M334.3 313.0h.7M338.2 348.7h.7M338.2 346.2h.7M338.1 343.7h.7M337.3 319.7h.7M337.3 317.4h.7M337.0 310.8h.7M341.5 348.7h.7M341.4 346.2h.7M341.3 343.7h.7M340.1 317.4h.7M339.8 313.0h.7M339.6 310.8h.7M344.8 348.7h.7M344.7 346.1h.7M344.6 343.6h.7M342.9 317.4h.7M342.7 315.2h.7M342.3 310.8h.7M342.1 308.7h.7M341.7 304.5h.7M347.9 346.1h.7M345.7 317.4h.7M345.4 315.1h.7M345.2 312.9h.7M344.2 304.4h.7M344.0 302.4h.7M351.5 351.1h.7M348.4 317.3h.7M347.9 312.9h.7M347.6 310.7h.7M347.3 308.6h.7M347.0 306.5h.7M346.7 304.4h.7M346.4 302.3h.7M346.1 300.3h.7M354.7 351.1h.7M354.6 348.5h.7M354.3 346.0h.7M351.2 317.3h.7M350.9 315.0h.7M350.6 312.8h.7M350.2 310.7h.7M349.9 308.5h.7M349.6 306.4h.7M349.2 304.3h.7M348.8 302.3h.7M348.5 300.3h.7M348.1 298.3h.7M347.7 296.4h.7M358.4 356.1h.7M358.2 353.5h.7M358.0 351.0h.7M357.8 348.4h.7M353.2 312.8h.7M352.9 310.6h.7M351.7 304.3h.7M351.3 302.3h.7M350.4 298.3h.7M349.5 294.4h.7M361.7 356.0h.7M361.2 350.9h.7M361.0 348.4h.7M356.3 314.9h.7M355.9 312.7h.7M355.5 310.5h.7M355.0 308.4h.7M354.6 306.3h.7M353.2 300.2h.7M352.7 298.2h.7M352.2 296.3h.7M351.7 294.4h.7M351.2 292.5h.7M350.7 290.7h.7M365.4 361.1h.7M364.9 355.9h.7M364.7 353.4h.7M364.4 350.8h.7M358.5 312.6h.7M358.0 310.5h.7M357.6 308.3h.7M357.1 306.2h.7M356.6 304.2h.7M356.1 302.1h.7M355.5 300.1h.7M353.9 294.3h.7M353.4 292.5h.7M369.5 371.5h.7M369.3 368.9h.7M368.9 363.6h.7M368.7 361.0h.7M368.4 358.4h.7M367.9 353.3h.7M367.6 350.7h.7M361.1 312.6h.7M360.6 310.4h.7M360.1 308.3h.7M359.5 306.2h.7M359.0 304.1h.7M358.4 302.1h.7M357.3 298.1h.7M356.7 296.2h.7M356.1 294.3h.7M355.5 292.4h.7M373.2 376.7h.7M373.0 374.0h.7M372.8 371.4h.7M372.4 366.1h.7M371.9 360.9h.7M371.7 358.3h.7M371.1 353.2h.7M370.8 350.6h.7M363.2 310.3h.7M362.6 308.2h.7M362.0 306.1h.7M361.4 304.0h.7M360.8 302.0h.7M359.5 298.0h.7M358.9 296.1h.7M376.5 376.5h.7M376.1 371.3h.7M375.9 368.6h.7M375.7 366.0h.7M375.1 360.8h.7M374.6 355.6h.7M373.9 350.5h.7M364.4 306.0h.7M363.8 303.9h.7M363.1 301.9h.7M362.5 299.9h.7M361.8 297.9h.7M361.1 296.0h.7M360.4 294.1h.7M359.7 292.3h.7M380.2 384.4h.7M380.1 381.7h.7M379.8 376.4h.7M379.6 373.8h.7M379.4 371.1h.7M379.1 368.5h.7M378.9 365.9h.7M378.6 363.3h.7M378.3 360.7h.7M378.0 358.1h.7M377.7 355.5h.7M377.4 352.9h.7M377.0 350.4h.7M366.1 303.8h.7M365.4 301.8h.7M364.7 299.8h.7M364.0 297.8h.7M362.5 294.0h.7M361.7 292.2h.7M360.9 290.4h.7M383.7 389.5h.7M383.6 386.9h.7M383.5 384.2h.7M383.4 381.6h.7M383.2 378.9h.7M383.0 376.3h.7M382.8 373.6h.7M382.6 371.0h.7M382.3 368.4h.7M382.1 365.7h.7M381.8 363.1h.7M381.5 360.5h.7M381.2 357.9h.7M380.8 355.4h.7M380.4 352.8h.7M367.0 299.7h.7M366.2 297.7h.7M365.4 295.8h.7M364.6 293.9h.7M362.9 290.3h.7M387.0 389.4h.7M386.7 384.1h.7M386.6 381.4h.7M386.4 378.8h.7M386.2 376.1h.7M386.0 373.5h.7M385.5 368.2h.7M385.2 365.6h.7M384.9 363.0h.7M384.6 360.4h.7M367.5 295.7h.7M365.8 292.0h.7M364.9 290.2h.7M364.0 288.4h.7M390.3 394.5h.7M390.3 391.9h.7M390.2 389.2h.7M390.1 386.6h.7M389.9 383.9h.7M389.8 381.3h.7M389.6 378.6h.7M389.4 376.0h.7M389.2 373.3h.7M388.9 370.7h.7M388.6 368.1h.7M388.0 362.8h.7M387.7 360.2h.7M367.7 291.9h.7M366.8 290.1h.7M365.9 288.3h.7M393.5 394.3h.7M393.5 391.7h.7M393.4 389.0h.7M393.3 386.4h.7M393.1 383.7h.7M392.9 381.1h.7M392.7 378.4h.7M392.5 375.8h.7M392.3 373.2h.7M392.0 370.5h.7M391.7 367.9h.7M391.4 365.3h.7M390.7 360.1h.7M368.7 290.0h.7M367.7 288.2h.7M396.7 394.2h.7M396.6 391.5h.7M396.5 388.9h.7M396.2 383.6h.7M396.0 380.9h.7M395.6 375.6h.7M395.4 373.0h.7M370.6 289.9h.7M399.8 396.6h.7M399.8 394.0h.7M399.7 391.3h.7M399.6 388.7h.7M399.4 386.0h.7M399.3 383.4h.7M399.1 380.7h.7M398.9 378.1h.7M398.7 375.4h.7M372.5 289.8h.7M402.8 396.4h.7M402.8 393.8h.7M402.7 391.1h.7M402.6 388.5h.7M402.5 385.8h.7M402.3 383.2h.7M402.1 380.5h.7M401.9 377.9h.7M405.8 396.2h.7M405.6 388.3h.7M405.4 385.6h.7M405.3 383.0h.7M405.1 380.3h.7M404.8 377.7h.7M408.8 396.0h.7M408.7 393.4h.7M408.5 388.1h.7M408.4 385.4h.7M408.2 382.8h.7M408.0 380.1h.7M407.7 377.5h.7M407.5 374.8h.7M357.4 267.8h.7M411.6 393.1h.7M411.5 390.5h.7M411.4 387.8h.7M411.2 385.2h.7M411.0 382.5h.7M410.8 379.9h.7M410.6 377.2h.7M410.3 374.6h.7M410.0 372.0h.7M372.9 281.0h.7M371.5 279.4h.7M370.1 277.9h.7M368.7 276.5h.7M367.2 275.1h.7M365.8 273.7h.7M362.9 271.2h.7M361.4 270.0h.7M359.9 268.8h.7M358.4 267.7h.7M356.8 266.6h.7M355.3 265.6h.7M414.4 392.9h.7M414.3 390.3h.7M414.2 387.6h.7M414.0 385.0h.7M413.6 379.7h.7M413.4 377.0h.7M413.1 374.4h.7M412.7 371.7h.7M412.4 369.1h.7M371.4 277.8h.7M370.0 276.4h.7M368.5 275.0h.7M367.0 273.7h.7M365.5 272.3h.7M364.0 271.1h.7M360.9 268.7h.7M359.3 267.6h.7M356.1 265.5h.7M354.5 264.6h.7M417.1 390.0h.7M416.9 387.4h.7M416.8 384.7h.7M416.6 382.1h.7M416.1 376.8h.7M415.8 374.1h.7M415.4 371.5h.7M371.3 276.3h.7M369.7 274.9h.7M368.2 273.5h.7M366.6 272.2h.7M365.0 271.0h.7M363.4 269.8h.7M360.2 267.5h.7M358.6 266.5h.7M357.0 265.5h.7M355.3 264.5h.7M419.7 389.8h.7M419.6 387.1h.7M419.4 384.5h.7M419.2 381.8h.7M419.0 379.2h.7M418.7 376.5h.7M370.9 274.8h.7M369.3 273.4h.7M367.7 272.1h.7M366.1 270.9h.7M364.5 269.7h.7M362.8 268.5h.7M361.1 267.4h.7M359.5 266.4h.7M357.8 265.4h.7M356.1 264.4h.7M422.4 389.5h.7M372.1 274.7h.7M370.5 273.3h.7M368.8 272.0h.7M367.1 270.8h.7M365.4 269.6h.7M363.7 268.5h.7M362.0 267.4h.7M360.3 266.3h.7M358.5 265.3h.7M373.2 274.6h.7M371.6 273.2h.7M368.1 270.7h.7M364.6 268.4h.7M362.9 267.3h.7M361.1 266.2h.7M357.5 264.3h.7M355.7 263.4h.7M376.1 275.8h.7M374.4 274.4h.7M372.6 273.1h.7M370.9 271.8h.7M369.1 270.6h.7M367.3 269.4h.7M365.5 268.3h.7M363.7 267.2h.7M361.9 266.1h.7M360.0 265.1h.7M358.2 264.2h.7M356.3 263.3h.7M430.0 396.7h.7M378.9 277.1h.7M377.2 275.7h.7M375.4 274.3h.7M373.7 273.0h.7M371.9 271.7h.7M370.1 270.5h.7M368.2 269.3h.7M366.4 268.2h.7M364.5 267.1h.7M362.7 266.0h.7M360.8 265.1h.7M432.3 401.7h.7M432.4 399.0h.7M432.4 396.4h.7M369.1 269.2h.7M367.2 268.1h.7M363.4 266.0h.7M361.5 265.0h.7M359.5 264.0h.7M434.2 409.2h.7M434.4 406.6h.7M434.5 404.0h.7M434.6 401.4h.7M434.7 398.7h.7M370.0 269.1h.7M368.0 268.0h.7M366.1 266.9h.7M364.1 265.9h.7M362.1 264.9h.7M360.2 264.0h.7M435.9 414.2h.7M436.4 408.9h.7M436.6 406.3h.7M436.7 403.7h.7M368.8 267.9h.7M366.8 266.8h.7M364.8 265.8h.7M362.8 264.8h.7M360.8 263.9h.7M438.0 413.9h.7M438.3 411.3h.7M438.7 406.0h.7M438.8 403.4h.7M438.9 400.8h.7M439.0 398.1h.7M369.6 267.8h.7M367.5 266.7h.7M365.5 265.7h.7M363.4 264.7h.7M361.4 263.8h.7M439.7 416.1h.7M440.0 413.6h.7M440.3 410.9h.7M440.5 408.3h.7M440.7 405.7h.7M440.9 403.1h.7M441.0 400.5h.7M370.3 267.6h.7M368.2 266.6h.7M366.1 265.6h.7M361.9 263.7h.7M441.3 418.4h.7M441.7 415.8h.7M442.0 413.2h.7M442.3 410.6h.7M442.7 405.4h.7M371.0 267.5h.7M368.9 266.5h.7M366.8 265.5h.7M364.6 264.5h.7M362.5 263.6h.7M443.1 418.1h.7M443.9 412.9h.7M444.6 405.1h.7M369.5 266.4h.7M365.2 264.4h.7M454.4 389.9h.7M454.3 387.3h.7M454.0 382.0h.7M453.8 379.3h.7M455.7 389.5h.7M455.6 386.9h.7M455.3 381.6h.7M455.0 379.0h.7M454.7 376.3h.7M456.9 391.8h.7M456.9 389.2h.7M456.8 386.6h.7M456.6 383.9h.7M456.5 381.3h.7M456.2 378.6h.7M455.9 376.0h.7M455.6 373.4h.7M458.0 391.5h.7M457.9 386.2h.7M457.7 383.6h.7M457.0 375.6h.7M456.7 373.0h.7M456.3 370.4h.7M459.0 391.1h.7M458.7 383.2h.7M458.5 380.6h.7M458.3 377.9h.7M457.7 372.7h.7M457.3 370.0h.7M456.8 367.4h.7M456.3 364.8h.7M455.8 362.2h.7M459.9 388.1h.7M459.8 385.5h.7M459.6 382.8h.7M459.4 380.2h.7M458.9 374.9h.7M458.2 369.7h.7M457.7 367.1h.7M457.2 364.5h.7M456.7 361.9h.7M460.7 390.4h.7M460.7 387.8h.7M460.6 385.1h.7M460.5 382.5h.7M460.3 379.8h.7M459.7 374.6h.7M459.4 371.9h.7M459.0 369.3h.7M458.5 366.7h.7M458.0 364.1h.7M461.3 384.7h.7M461.2 382.1h.7M460.7 376.8h.7M460.4 374.2h.7M460.1 371.6h.7M459.7 369.0h.7M459.2 366.3h.7M458.7 363.7h.7M267.0 285.6h.7M256.3 285.8h.7M266.8 281.0h.7M252.8 287.1h.7M301.3 269.6h.7M252.6 292.9h.7M246.8 295.9h.7M269.0 279.4h.7M280.6 278.8h.7M290.4 274.0h.7M311.4 264.4h.7M245.4 291.8h.7M304.5 267.1h.7M309.7 265.1h.7M273.2 278.4h.7M271.7 284.2h.7M244.2 296.9h.7M281.4 278.3h.7M245.6 296.9h.7M261.7 287.7h.7M250.2 288.4h.7M289.2 269.6h.7M249.4 286.2h.7M256.6 286.0h.7M295.1 272.0h.7M266.8 281.3h.7M242.2 297.0h.7M286.6 275.8h.7M286.2 271.8h.7M294.6 272.1h.7M289.2 274.8h.7M243.7 298.0h.7M288.2 275.5h.7M300.9 269.6h.7M302.9 262.0h.7M303.5 264.0h.7M307.9 265.8h.7M263.6 283.3h.7M276.4 281.1h.7M276.3 280.8h.7M257.1 290.5h.7M287.3 276.1h.7M307.7 265.9h.7M305.9 267.5h.7M279.8 273.1h.7M272.3 282.6h.7M295.4 267.2h.7M280.7 281.2h.7M273.4 276.5h.7M265.5 282.4h.7M288.3 271.2h.7M245.4 289.3h.7M252.2 287.9h.7M291.1 270.1h.7M300.7 269.3h.7M287.0 271.2h.7M249.8 288.1h.7M242.5 293.2h.7M274.2 282.9h.7M251.7 288.0h.7M247.5 290.9h.7M271.7 283.1h.7M287.0 269.1h.7M264.6 286.8h.7M281.6 273.5h.7M289.4 270.9h.7M244.6 296.9h.7M284.9 276.8h.7M296.7 271.2h.7M254.2 291.7h.7M288.7 270.1h.7M277.1 280.9h.7M288.6 276.0h.7M290.5 275.1h.7M242.6 292.2h.7M276.2 281.8h.7M292.8 273.5h.7M272.6 277.0h.7M305.9 263.1h.7M290.5 268.9h.7M253.6 286.2h.7M302.6 263.8h.7M285.2 272.8h.7M285.0 277.1h.7M303.0 270.3h.7M296.1 271.6h.7M257.0 286.4h.7M281.4 279.3h.7M248.0 294.9h.7M302.6 268.9h.7M294.5 272.2h.7M301.7 264.2h.7M267.6 284.8h.7M272.7 278.3h.7M244.7 291.5h.7M260.6 288.5h.7M297.8 271.8h.7M293.6 272.4h.7M245.5 296.2h.7M267.3 285.1h.7M275.5 281.5h.7M264.3 282.5h.7M260.6 284.5h.7M296.5 265.2h.7M308.8 266.8h.7M276.9 281.3h.7M301.8 264.2h.7M288.1 277.6h.7M264.6 286.6h.7M271.0 278.2h.7M263.1 287.4h.7M253.7 292.0h.7M257.3 283.3h.7M250.6 288.8h.7M243.9 296.5h.7M270.8 285.3h.7M262.3 280.8h.7M304.1 263.1h.7M263.2 286.9h.7M255.7 287.0h.7M308.5 265.7h.7M273.4 283.5h.7M298.6 270.1h.7M275.7 282.7h.7M243.8 290.6h.7M304.8 263.3h.7M281.2 279.8h.7M261.5 284.2h.7M301.6 271.2h.7M273.4 278.2h.7M269.1 279.3h.7M280.6 273.6h.7M258.7 283.9h.7M266.7 285.4h.7M259.6 282.8h.7M280.2 279.4h.7M288.4 270.8h.7M246.5 290.7h.7M303.4 263.4h.7M277.1 276.3h.7M277.3 275.6h.7M274.5 282.7h.7M302.9 263.7h.7M264.3 283.0h.7M292.3 274.5h.7M250.8 293.5h.7M242.5 292.2h.7M244.1 292.3h.7M253.7 285.8h.7M302.3 270.5h.7M250.9 288.2h.7M281.9 278.2h.7M418.3 295.4h.7M454.0 390.4h.7M445.7 336.2h.7M419.4 293.6h.7M445.2 330.8h.7M444.7 345.1h.7M437.5 323.7h.7M433.6 310.6h.7M435.9 313.7h.7M403.6 288.3h.7M457.0 403.2h.7M408.5 287.6h.7M456.4 369.0h.7M392.1 286.5h.7M427.8 309.9h.7M448.6 345.4h.7M422.9 310.8h.7M449.2 337.5h.7M425.6 304.3h.7M399.2 283.1h.7M447.0 381.7h.7M414.4 291.1h.7M455.5 405.2h.7M442.0 320.7h.7M451.9 353.7h.7M436.8 317.0h.7M436.8 348.3h.7M447.7 401.1h.7M396.7 285.7h.7M451.8 343.4h.7M447.4 402.9h.7M446.4 365.2h.7M425.0 302.3h.7M417.6 307.9h.7M454.4 373.5h.7M438.7 329.3h.7M445.1 347.1h.7M422.6 304.5h.7M454.3 370.2h.7M442.8 330.8h.7M452.1 348.8h.7M397.9 280.4h.7M395.7 288.1h.7M419.0 326.2h.7M449.8 357.5h.7M399.3 290.2h.7M402.7 279.8h.7M444.4 375.1h.7M414.6 296.1h.7M418.5 304.8h.7M427.8 312.9h.7M451.7 397.8h.7M387.2 292.2h.7M430.3 318.4h.7M425.2 309.4h.7M393.2 282.3h.7M446.1 339.2h.7M452.1 361.1h.7M437.7 332.5h.7M436.3 332.6h.7M403.4 287.7h.7M445.4 359.5h.7M434.9 346.3h.7M445.0 331.3h.7M417.7 328.5h.7M453.4 346.4h.7M428.1 314.3h.7M395.7 276.6h.7M396.2 280.9h.7M451.9 366.6h.7M392.8 281.3h.7M402.4 286.0h.7M429.6 311.8h.7M449.7 354.7h.7M418.4 302.1h.7M451.0 391.6h.7M399.7 281.1h.7M391.2 282.0h.7M417.9 317.5h.7M447.3 340.6h.7M459.6 390.5h.7M439.2 347.0h.7M453.5 403.0h.7M445.8 342.0h.7M449.3 376.8h.7M426.5 312.4h.7M446.5 329.9h.7M446.1 348.6h.7M427.5 316.8h.7M456.7 382.1h.7M454.0 373.2h.7M420.7 307.9h.7M393.9 285.3h.7M421.1 294.6h.7M444.3 368.1h.7M399.6 289.4h.7M421.0 316.9h.7M439.1 329.0h.7M416.8 295.5h.7M419.7 311.7h.7M449.9 376.2h.7M415.0 295.2h.7M433.1 319.8h.7M452.5 369.8h.7M406.5 300.6h.7M459.4 384.4h.7M446.9 342.2h.7M436.2 369.4h.7M435.3 329.8h.7M449.9 347.2h.7M448.9 371.2h.7M450.1 349.2h.7M445.4 333.8h.7M409.8 289.7h.7M454.3 357.3h.7M423.9 311.2h.7M455.1 379.6h.7M438.0 318.5h.7M456.4 378.5h.7M448.0 345.8h.7M435.6 318.8h.7M420.6 299.4h.7M449.2 379.6h.7M439.8 321.7h.7M450.5 352.2h.7M409.7 286.2h.7M421.6 301.2h.7M407.0 299.0h.7M450.5 383.2h.7M393.9 277.1h.7M450.1 384.2h.7M454.7 385.2h.7M453.7 390.2h.7M451.4 353.6h.7M396.6 292.5h.7M407.8 289.7h.7M406.1 284.6h.7M429.0 341.6h.7M440.3 380.4h.7M419.3 302.0h.7M460.8 387.8h.7M455.8 376.0h.7M426.1 311.5h.7M454.7 367.1h.7M419.1 298.8h.7M413.7 290.9h.7M453.8 400.6h.7M450.2 343.0h.7M432.0 335.2h.7M418.6 315.3h.7M432.7 323.9h.7M439.2 387.2h.7M451.2 395.5h.7M449.5 378.7h.7M389.1 286.0h.7M458.3 381.1h.7M443.5 356.6h.7M455.1 373.3h.7M417.4 301.3h.7M458.0 399.3h.7M434.1 311.8h.7M456.7 385.1h.7M445.4 384.1h.7M427.4 322.1h.7M460.2 402.6h.7M456.7 378.3h.7M418.9 298.9h.7M442.0 392.1h.7M443.9 351.9h.7M430.4 322.4h.7M391.1 286.2h.7M447.9 395.8h.7M431.4 332.5h.7M449.3 363.4h.7M453.7 386.7h.7M442.4 362.2h.7M440.7 333.4h.7M450.5 377.5h.7M457.0 365.1h.7M399.2 278.1h.7M444.6 353.2h.7M403.1 294.7h.7M434.4 318.7h.7M400.3 285.0h.7M397.6 306.4h.7M458.3 379.4h.7M451.6 369.9h.7M448.7 374.6h.7M419.7 314.9h.7M423.6 299.7h.7M449.8 358.8h.7M408.1 302.5h.7M433.6 321.7h.7M443.4 396.1h.7M457.5 387.8h.7M438.6 392.9h.7M442.0 354.8h.7M445.9 400.4h.7M416.9 292.7h.7M434.6 318.6h.7M441.2 319.5h.7M432.8 313.7h.7M449.8 396.9h.7M433.4 325.4h.7M447.6 392.9h.7M405.8 286.7h.7M451.6 362.3h.7M442.9 373.8h.7M424.4 304.8h.7M460.9 383.4h.7M446.2 346.3h.7M456.7 355.4h.7M436.9 320.3h.7M426.2 303.7h.7M414.3 308.9h.7M425.1 319.7h.7M456.0 356.7h.7M409.9 285.1h.7M427.8 308.9h.7M445.2 363.7h.7M457.5 360.3h.7M401.1 287.2h.7M398.6 281.0h.7M455.2 391.4h.7M437.4 402.5h.7M444.7 346.5h.7M452.5 367.5h.7M452.4 347.2h.7M424.2 307.9h.7M455.0 400.5h.7M445.1 340.1h.7M444.1 331.2h.7M457.4 394.9h.7M428.5 307.2h.7M446.5 334.7h.7M396.5 280.0h.7M402.0 294.2h.7M446.7 368.4h.7M457.0 394.2h.7M436.3 351.7h.7M459.0 368.5h.7M453.1 389.0h.7M418.7 315.0h.7M412.0 287.1h.7M451.8 383.2h.7M392.3 289.6h.7M411.8 286.6h.7M423.3 300.0h.7M430.5 365.9h.7M449.1 394.0h.7M393.3 284.5h.7M435.7 332.5h.7M437.1 333.0h.7M399.6 296.4h.7M402.7 284.5h.7M411.6 291.7h.7M445.1 331.6h.7M434.3 348.5h.7M441.9 345.3h.7M449.8 340.1h.7M428.5 325.3h.7M449.8 357.1h.7M447.2 388.2h.7M454.9 356.4h.7M422.4 325.7h.7M448.6 381.0h.7M403.0 298.9h.7M447.9 355.0h.7M433.1 328.8h.7M391.5 277.0h.7M447.7 400.0h.7M417.1 318.0h.7M456.6 364.1h.7M429.9 347.9h.7M410.8 302.2h.7M428.6 308.3h.7M389.0 295.6h.7M429.2 318.8h.7M430.1 321.3h.7M439.3 385.3h.7M402.5 283.6h.7M455.6 371.8h.7M427.6 301.3h.7M400.4 294.6h.7M432.7 335.0h.7M425.0 308.7h.7M448.1 358.8h.7M450.7 380.2h.7M430.4 339.5h.7M444.1 326.4h.7M438.3 343.5h.7M453.3 376.8h.7M445.5 348.7h.7M395.9 280.0h.7M428.4 312.0h.7M455.8 357.1h.7M404.5 297.3h.7M448.4 332.8h.7M414.3 314.3h.7M438.5 329.7h.7M403.3 297.4h.7M446.4 381.8h.7M447.9 332.8h.7M401.2 282.0h.7M394.6 283.6h.7M401.6 286.3h.7M450.0 354.6h.7M422.3 299.7h.7M400.9 284.0h.7M456.2 353.0h.7M413.3 292.4h.7M398.9 287.3h.7M457.5 386.6h.7M433.3 328.8h.7M451.6 355.6h.7M455.4 400.3h.7M458.8 385.8h.7M453.8 367.1h.7M450.6 345.3h.7M446.5 335.4h.7M391.1 277.7h.7M441.9 327.8h.7M441.5 361.4h.7M436.6 350.0h.7M429.6 336.0h.7M421.6 320.7h.7M453.5 355.7h.7M423.0 308.9h.7M406.3 287.7h.7M394.4 275.0h.7M456.4 401.0h.7M451.0 352.4h.7M444.2 354.6h.7M455.1 373.5h.7M415.0 293.1h.7M436.4 330.3h.7M394.0 277.5h.7M453.4 360.3h.7M442.4 398.6h.7M449.4 342.6h.7M407.6 303.7h.7M395.4 283.9h.7M388.6 283.0h.7M449.6 401.6h.7M460.0 382.2h.7M439.1 341.9h.7M420.3 309.0h.7M452.0 342.6h.7M446.9 347.8h.7M432.4 334.7h.7M448.9 363.0h.7M429.6 305.9h.7M396.9 285.0h.7M439.7 328.3h.7M439.5 332.1h.7M454.6 359.2h.7M394.5 276.3h.7M429.1 311.9h.7M419.2 297.9h.7M417.5 320.2h.7M446.4 346.5h.7M402.9 293.8h.7M424.4 305.9h.7M437.9 381.1h.7M455.2 355.1h.7M443.9 376.1h.7M455.5 381.8h.7M454.1 367.4h.7M452.4 354.9h.7M449.4 346.0h.7M391.2 302.9h.7M418.3 313.2h.7M418.2 293.9h.7M460.6 387.2h.7M427.4 315.7h.7M446.4 389.2h.7M392.2 283.9h.7M450.6 347.5h.7M407.8 284.6h.7M427.8 312.2h.7M420.2 320.8h.7M421.8 302.9h.7M409.7 289.9h.7M446.5 356.9h.7M449.3 361.8h.7M439.9 325.4h.7M457.6 381.2h.7M451.2 346.2h.7M443.7 373.7h.7M395.2 281.6h.7M399.0 292.8h.7M447.3 391.6h.7M411.4 289.3h.7M438.7 334.3h.7M448.1 365.9h.7M426.7 312.1h.7M407.1 289.9h.7M433.5 322.0h.7M459.3 369.6h.7M420.1 318.5h.7M440.4 333.3h.7M454.9 368.1h.7M433.2 312.0h.7M454.9 367.9h.7M438.9 319.6h.7M426.2 326.3h.7M425.0 326.4h.7M455.7 374.1h.7M431.3 313.6h.7M393.3 275.1h.7M456.9 375.8h.7M429.8 305.6h.7M458.5 403.0h.7M456.8 368.5h.7M444.0 356.2h.7M391.9 291.4h.7M452.0 349.3h.7M436.3 337.7h.7M420.2 310.0h.7M443.1 340.0h.7M429.1 304.0h.7M383.6 292.1h.7M411.9 314.5h.7M454.3 359.7h.7M440.1 323.3h.7M449.0 373.9h.7M449.8 353.3h.7M441.7 373.9h.7M437.2 317.5h.7M393.6 282.8h.7M431.0 308.6h.7M400.1 296.3h.7M459.2 404.7h.7M446.8 338.1h.7M448.3 332.3h.7M393.4 280.4h.7M454.6 374.5h.7M456.2 370.9h.7M454.3 363.8h.7M400.4 278.6h.7M431.6 315.6h.7M395.6 282.6h.7M450.5 352.9h.7M453.5 365.5h.7M428.9 331.1h.7M458.3 404.1h.7M441.8 342.5h.7M441.9 337.3h.7M448.8 344.5h.7M454.0 372.8h.7M451.5 362.6h.7M436.6 337.6h.7M419.6 300.9h.7M449.9 378.9h.7M425.8 317.7h.7M452.3 379.5h.7M393.4 295.2h.7M438.7 329.4h.7M436.2 325.6h.7M444.8 344.9h.7M443.1 334.3h.7M442.9 331.0h.7M424.0 329.4h.7M439.2 331.4h.7M458.1 401.6h.7M406.5 288.0h.7M448.4 362.7h.7M450.5 384.7h.7M406.7 285.4h.7M449.1 367.8h.7M445.1 396.1h.7M437.5 349.6h.7M432.3 321.5h.7M393.6 283.8h.7M400.2 302.3h.7M413.9 316.9h.7M444.8 327.8h.7M448.1 343.9h.7M391.0 290.5h.7M411.8 302.1h.7M456.0 377.8h.7M433.9 309.1h.7M450.5 385.8h.7M445.8 340.9h.7M459.0 390.3h.7M448.3 364.0h.7M452.8 344.8h.7M434.5 329.2h.7M427.8 331.2h.7M427.3 309.7h.7M455.5 374.9h.7M416.3 301.1h.7M419.7 327.7h.7M455.1 388.7h.7M447.7 366.5h.7M443.5 363.2h.7M447.8 341.1h.7M438.1 343.3h.7M405.5 288.5h.7M452.2 347.2h.7" stroke-opacity="0.56"/><path d="M233.9 302.2h.7M234.4 302.5h.7M234.9 302.8h.7M267.0 275.4h.7M269.2 274.1h.7M273.8 271.5h.7M235.5 303.0h.7M276.5 270.5h.7M278.8 269.3h.7M281.2 268.2h.7M236.2 303.3h.7M238.0 301.3h.7M281.6 268.3h.7M283.9 267.3h.7M286.3 266.2h.7M238.7 301.6h.7M284.3 267.4h.7M286.7 266.4h.7M289.0 265.4h.7M284.7 267.5h.7M287.1 266.5h.7M289.4 265.5h.7M240.4 302.1h.7M242.1 300.1h.7M244.8 298.4h.7M244.0 300.6h.7M245.7 298.6h.7M245.1 300.8h.7M246.8 298.9h.7M247.9 299.1h.7M249.0 299.4h.7M250.7 297.4h.7M250.3 299.6h.7M251.9 297.6h.7M253.6 295.7h.7M253.2 297.9h.7M254.5 298.1h.7M256.1 296.2h.7M257.8 294.3h.7M255.8 298.3h.7M257.4 296.4h.7M259.1 294.5h.7M260.7 292.6h.7M257.3 298.5h.7M258.8 296.6h.7M262.1 292.8h.7M263.7 291.0h.7M260.3 296.8h.7M261.8 294.9h.7M263.4 293.0h.7M265.1 291.2h.7M266.7 289.4h.7M258.8 300.9h.7M260.3 298.9h.7M261.8 297.0h.7M263.3 295.1h.7M264.9 293.2h.7M266.5 291.4h.7M268.1 289.6h.7M269.7 287.9h.7M259.0 303.1h.7M260.4 301.1h.7M261.8 299.1h.7M263.3 297.2h.7M264.8 295.3h.7M266.4 293.4h.7M267.9 291.6h.7M269.5 289.8h.7M271.1 288.1h.7M272.7 286.3h.7M260.7 303.3h.7M262.1 301.3h.7M263.5 299.3h.7M264.9 297.4h.7M266.4 295.5h.7M267.9 293.6h.7M269.4 291.8h.7M270.9 290.0h.7M272.5 288.2h.7M274.1 286.5h.7M275.7 284.8h.7M261.1 305.6h.7M262.4 303.5h.7M263.8 301.5h.7M265.2 299.5h.7M266.6 297.6h.7M268.0 295.6h.7M269.5 293.8h.7M270.9 291.9h.7M272.4 290.1h.7M274.0 288.4h.7M277.1 285.0h.7M278.7 283.4h.7M280.3 281.8h.7M261.7 307.8h.7M263.0 305.8h.7M264.2 303.7h.7M265.6 301.7h.7M266.9 299.7h.7M268.3 297.7h.7M269.7 295.8h.7M271.1 293.9h.7M272.5 292.1h.7M274.0 290.3h.7M275.5 288.5h.7M277.0 286.8h.7M278.5 285.1h.7M280.1 283.5h.7M281.6 281.9h.7M283.2 280.3h.7M284.8 278.8h.7M263.6 308.0h.7M264.8 305.9h.7M267.4 301.9h.7M268.7 299.9h.7M270.0 297.9h.7M271.4 296.0h.7M272.7 294.1h.7M274.1 292.3h.7M275.6 290.5h.7M278.5 287.0h.7M280.0 285.3h.7M283.0 282.0h.7M284.6 280.5h.7M286.1 279.0h.7M287.7 277.5h.7M289.3 276.1h.7M264.4 310.4h.7M265.6 308.2h.7M266.8 306.1h.7M268.0 304.1h.7M269.2 302.0h.7M270.5 300.0h.7M271.8 298.1h.7M273.1 296.2h.7M274.4 294.3h.7M277.2 290.6h.7M278.6 288.9h.7M280.0 287.1h.7M282.9 283.8h.7M284.4 282.2h.7M285.9 280.6h.7M287.4 279.1h.7M290.5 276.2h.7M292.1 274.8h.7M267.6 308.4h.7M269.9 304.2h.7M271.1 302.2h.7M272.4 300.2h.7M273.6 298.3h.7M274.9 296.3h.7M276.2 294.4h.7M277.5 292.6h.7M278.9 290.8h.7M280.2 289.0h.7M281.6 287.3h.7M290.3 277.7h.7M291.8 276.3h.7M268.6 310.7h.7M269.7 308.6h.7M270.8 306.5h.7M271.9 304.4h.7M274.3 300.4h.7M275.5 298.4h.7M276.7 296.5h.7M278.0 294.6h.7M279.3 292.7h.7M280.6 290.9h.7M281.9 289.1h.7M283.2 287.4h.7M294.6 275.0h.7M270.7 310.9h.7M271.8 308.8h.7M272.9 306.7h.7M274.0 304.6h.7M275.1 302.5h.7M276.2 300.5h.7M277.4 298.6h.7M279.8 294.7h.7M281.0 292.9h.7M282.3 291.1h.7M283.6 289.3h.7M271.9 313.2h.7M273.9 308.9h.7M275.0 306.8h.7M276.0 304.7h.7M277.1 302.7h.7M278.2 300.7h.7M279.4 298.7h.7M280.5 296.8h.7M281.7 294.9h.7M282.9 293.0h.7M284.1 291.2h.7M274.2 313.4h.7M275.2 311.2h.7M276.1 309.1h.7M277.1 307.0h.7M278.2 304.9h.7M279.2 302.9h.7M280.3 300.8h.7M281.4 298.9h.7M282.5 296.9h.7M283.6 295.0h.7M284.7 293.2h.7M285.9 291.3h.7M287.1 289.5h.7M305.2 269.0h.7M308.0 266.8h.7M318.1 260.6h.7M276.5 313.6h.7M277.4 311.4h.7M278.4 309.2h.7M280.3 305.0h.7M281.3 303.0h.7M282.3 301.0h.7M283.4 299.0h.7M284.4 297.1h.7M285.5 295.2h.7M286.6 293.3h.7M287.7 291.5h.7M307.6 267.9h.7M309.0 266.8h.7M310.3 265.8h.7M311.7 264.8h.7M313.1 263.9h.7M318.6 260.6h.7M278.9 313.7h.7M279.8 311.5h.7M280.7 309.4h.7M281.6 307.3h.7M282.5 305.2h.7M284.4 301.1h.7M285.4 299.1h.7M286.5 297.2h.7M287.5 295.3h.7M288.5 293.4h.7M289.6 291.6h.7M308.6 268.0h.7M309.9 266.9h.7M311.2 265.8h.7M312.5 264.9h.7M313.9 263.9h.7M315.2 263.0h.7M316.5 262.2h.7M317.8 261.4h.7M281.3 313.9h.7M282.1 311.7h.7M283.0 309.5h.7M283.8 307.4h.7M284.7 305.3h.7M285.7 303.3h.7M286.6 301.2h.7M287.5 299.3h.7M288.5 297.3h.7M289.5 295.4h.7M290.5 293.5h.7M291.5 291.7h.7M312.2 265.9h.7M313.4 264.9h.7M314.7 264.0h.7M315.9 263.1h.7M283.7 314.0h.7M284.5 311.8h.7M285.3 309.7h.7M286.2 307.5h.7M287.0 305.5h.7M287.9 303.4h.7M288.8 301.4h.7M289.7 299.4h.7M290.6 297.4h.7M291.5 295.5h.7M292.5 293.6h.7M313.1 266.0h.7M315.5 264.0h.7M316.7 263.1h.7M285.4 316.3h.7M286.2 314.1h.7M286.9 311.9h.7M287.7 309.8h.7M288.5 307.7h.7M289.3 305.6h.7M290.1 303.5h.7M291.0 301.5h.7M291.8 299.5h.7M292.7 297.5h.7M293.6 295.6h.7M294.5 293.7h.7M315.2 265.0h.7M316.3 264.1h.7M317.4 263.2h.7M318.6 262.3h.7M288.0 316.5h.7M288.7 314.3h.7M289.4 312.1h.7M290.1 309.9h.7M290.9 307.8h.7M291.6 305.7h.7M292.4 303.6h.7M293.2 301.6h.7M294.0 299.6h.7M294.8 297.7h.7M295.7 295.7h.7M318.2 263.2h.7M290.6 316.6h.7M291.2 314.4h.7M291.9 312.2h.7M294.0 305.8h.7M294.7 303.7h.7M295.5 301.7h.7M296.2 299.7h.7M297.0 297.8h.7M297.8 295.8h.7M293.2 316.7h.7M293.8 314.5h.7M294.4 312.3h.7M295.0 310.1h.7M296.4 305.9h.7M297.1 303.8h.7M297.8 301.8h.7M298.5 299.8h.7M299.2 297.8h.7M295.8 316.8h.7M296.4 314.6h.7M296.9 312.4h.7M297.5 310.2h.7M298.2 308.1h.7M298.8 306.0h.7M299.4 303.9h.7M300.7 299.9h.7M299.0 314.7h.7M299.5 312.5h.7M300.6 308.2h.7M301.8 304.0h.7M302.4 302.0h.7M301.6 314.8h.7M302.1 312.6h.7M302.6 310.4h.7M303.1 308.3h.7M303.7 306.2h.7M304.2 304.1h.7M305.7 308.3h.7M306.1 306.2h.7M316.4 331.3h.7M316.6 328.9h.7M316.8 326.6h.7M319.3 333.8h.7M319.4 331.4h.7M319.6 329.0h.7M319.7 326.6h.7M322.3 336.2h.7M322.4 333.8h.7M322.5 331.4h.7M322.6 329.0h.7M322.7 326.6h.7M322.8 324.3h.7M325.4 336.3h.7M325.5 333.8h.7M325.5 331.4h.7M325.6 329.0h.7M325.7 326.7h.7M325.8 324.3h.7M328.5 338.7h.7M328.5 336.3h.7M328.6 333.8h.7M328.6 331.4h.7M328.6 329.0h.7M328.7 326.7h.7M328.7 324.3h.7M331.7 338.7h.7M331.7 336.3h.7M331.6 333.8h.7M331.6 331.4h.7M331.6 329.0h.7M331.6 326.7h.7M331.6 324.3h.7M331.6 322.0h.7M334.8 338.7h.7M334.8 336.3h.7M334.7 333.8h.7M334.7 331.4h.7M334.7 329.0h.7M334.6 326.7h.7M334.5 322.0h.7M338.1 341.2h.7M337.9 336.3h.7M337.8 333.8h.7M337.8 331.4h.7M337.7 329.0h.7M337.6 326.7h.7M337.5 324.3h.7M337.4 322.0h.7M341.2 341.2h.7M341.1 338.7h.7M341.0 336.2h.7M340.9 333.8h.7M340.8 331.4h.7M340.7 329.0h.7M340.6 326.6h.7M340.5 324.3h.7M340.3 322.0h.7M340.2 319.7h.7M344.4 341.1h.7M344.2 336.2h.7M344.0 333.8h.7M343.9 331.4h.7M343.7 329.0h.7M343.5 326.6h.7M343.4 324.3h.7M343.2 322.0h.7M343.0 319.7h.7M347.8 343.6h.7M347.6 341.1h.7M347.4 338.6h.7M347.3 336.2h.7M347.1 333.7h.7M346.9 331.3h.7M346.5 326.6h.7M346.1 321.9h.7M345.9 319.6h.7M351.0 343.5h.7M350.8 341.0h.7M350.4 336.1h.7M350.1 333.7h.7M349.5 326.5h.7M349.2 324.2h.7M349.0 321.9h.7M348.7 319.6h.7M354.1 343.5h.7M353.9 341.0h.7M353.7 338.5h.7M353.4 336.1h.7M352.4 326.5h.7M351.8 321.8h.7M351.5 319.5h.7M357.5 345.9h.7M357.3 343.4h.7M357.0 340.9h.7M356.8 338.4h.7M356.5 336.0h.7M355.3 326.4h.7M355.0 324.1h.7M354.7 321.8h.7M354.3 319.5h.7M354.0 317.2h.7M360.7 345.8h.7M360.4 343.3h.7M360.2 340.8h.7M359.9 338.4h.7M358.2 326.3h.7M357.9 324.0h.7M357.5 321.7h.7M357.1 319.4h.7M356.7 317.1h.7M364.2 348.3h.7M363.9 345.8h.7M363.6 343.2h.7M363.2 340.8h.7M360.7 323.9h.7M360.3 321.6h.7M359.9 319.3h.7M359.4 317.1h.7M359.0 314.8h.7M367.3 348.2h.7M367.0 345.7h.7M366.7 343.2h.7M366.3 340.7h.7M363.5 323.8h.7M363.1 321.5h.7M362.6 319.2h.7M362.1 317.0h.7M361.6 314.8h.7M370.4 348.1h.7M370.1 345.6h.7M369.7 343.0h.7M369.4 340.6h.7M366.3 323.7h.7M365.8 321.4h.7M365.3 319.1h.7M364.8 316.9h.7M364.3 314.7h.7M363.7 312.5h.7M373.5 348.0h.7M373.2 345.4h.7M372.8 342.9h.7M372.4 340.4h.7M372.0 338.0h.7M369.1 323.6h.7M368.6 321.3h.7M368.0 319.0h.7M367.5 316.8h.7M366.9 314.6h.7M366.3 312.4h.7M365.7 310.2h.7M365.1 308.1h.7M376.6 347.8h.7M376.2 345.3h.7M375.8 342.8h.7M375.4 340.3h.7M374.9 337.9h.7M371.8 323.5h.7M370.7 318.9h.7M370.1 316.7h.7M369.5 314.5h.7M368.8 312.3h.7M368.2 310.1h.7M367.5 308.0h.7M366.8 305.9h.7M379.2 345.2h.7M378.8 342.7h.7M378.3 340.2h.7M377.8 337.7h.7M375.1 325.7h.7M374.6 323.4h.7M373.3 318.8h.7M372.7 316.6h.7M372.0 314.4h.7M371.3 312.2h.7M370.7 310.0h.7M369.9 307.9h.7M369.2 305.8h.7M368.5 303.7h.7M367.7 301.7h.7M377.9 325.6h.7M376.6 321.0h.7M375.9 318.7h.7M375.2 316.5h.7M374.5 314.2h.7M373.8 312.1h.7M373.1 309.9h.7M372.3 307.8h.7M371.6 305.7h.7M370.8 303.6h.7M370.0 301.6h.7M369.2 299.6h.7M379.9 323.1h.7M379.2 320.8h.7M378.5 318.6h.7M377.8 316.3h.7M377.0 314.1h.7M376.3 311.9h.7M375.5 309.8h.7M374.7 307.6h.7M373.9 305.6h.7M373.1 303.5h.7M372.2 301.5h.7M371.4 299.5h.7M370.5 297.5h.7M369.6 295.6h.7M368.7 293.7h.7M381.8 320.7h.7M380.3 316.2h.7M379.5 314.0h.7M378.7 311.8h.7M377.9 309.6h.7M377.0 307.5h.7M376.2 305.4h.7M374.4 301.4h.7M373.5 299.4h.7M372.6 297.4h.7M371.6 295.5h.7M370.7 293.6h.7M395.1 370.3h.7M394.1 362.5h.7M383.5 318.3h.7M382.8 316.1h.7M381.9 313.8h.7M381.1 311.7h.7M379.3 307.4h.7M377.5 303.3h.7M376.6 301.2h.7M375.6 299.2h.7M374.7 297.3h.7M373.7 295.4h.7M372.7 293.5h.7M371.6 291.7h.7M398.4 372.8h.7M398.1 370.2h.7M397.8 367.5h.7M397.4 364.9h.7M397.1 362.3h.7M384.3 313.7h.7M383.4 311.5h.7M382.5 309.4h.7M381.6 307.3h.7M380.7 305.2h.7M379.7 303.1h.7M378.7 301.1h.7M377.7 299.1h.7M376.7 297.2h.7M375.7 295.3h.7M374.6 293.4h.7M373.5 291.6h.7M401.6 375.2h.7M401.4 372.6h.7M401.1 370.0h.7M400.4 364.7h.7M400.0 362.1h.7M387.6 315.7h.7M386.7 313.5h.7M385.8 311.4h.7M384.8 309.2h.7M383.8 307.1h.7M382.9 305.0h.7M380.8 301.0h.7M378.7 297.0h.7M404.6 375.0h.7M404.3 372.4h.7M403.6 367.1h.7M389.0 313.4h.7M388.0 311.2h.7M387.0 309.1h.7M386.0 307.0h.7M385.0 304.9h.7M384.0 302.8h.7M407.2 372.2h.7M406.8 369.6h.7M406.5 366.9h.7M406.1 364.3h.7M390.3 311.0h.7M389.2 308.9h.7M409.6 369.3h.7M409.3 366.7h.7M375.8 282.4h.7M374.3 280.8h.7M372.9 279.3h.7M377.2 282.3h.7M375.8 280.7h.7M374.3 279.2h.7M372.8 277.7h.7M380.2 283.8h.7M378.7 282.2h.7M377.2 280.6h.7M375.6 279.1h.7M374.1 277.6h.7M372.5 276.2h.7M398.3 305.9h.7M381.6 283.6h.7M380.1 282.0h.7M378.5 280.5h.7M376.9 279.0h.7M375.3 277.5h.7M397.6 301.7h.7M383.0 283.5h.7M381.4 281.9h.7M379.8 280.3h.7M376.6 277.4h.7M374.9 275.9h.7M399.3 301.5h.7M398.0 299.5h.7M384.4 283.3h.7M382.8 281.7h.7M381.1 280.2h.7M379.5 278.7h.7M377.8 277.2h.7M399.6 299.3h.7M398.2 297.3h.7M384.1 281.6h.7M382.4 280.1h.7M380.7 278.5h.7M399.8 297.2h.7M398.3 295.3h.7M399.8 295.1h.7M398.2 293.2h.7M396.6 291.4h.7M399.6 293.0h.7M398.0 291.2h.7M396.4 289.4h.7M436.8 369.1h.7M399.4 291.0h.7M397.7 289.2h.7M400.6 290.8h.7M398.9 289.0h.7M397.2 287.3h.7M400.1 288.9h.7M398.4 287.1h.7M401.3 288.7h.7M399.5 286.9h.7M397.7 285.3h.7M400.6 286.7h.7M398.7 285.1h.7M401.6 286.5h.7M397.8 283.3h.7M400.7 284.7h.7M398.7 283.1h.7M401.6 284.5h.7M399.6 282.9h.7M397.6 281.3h.7M443.2 341.1h.7M400.4 282.7h.7M398.4 281.1h.7M448.0 350.8h.7M447.2 348.2h.7M445.4 343.2h.7M444.4 340.7h.7M401.2 282.5h.7M399.1 280.9h.7M397.1 279.4h.7M450.0 353.0h.7M449.2 350.4h.7M448.4 347.9h.7M447.5 345.4h.7M446.6 342.9h.7M401.9 282.3h.7M399.9 280.7h.7M397.8 279.2h.7M451.8 355.2h.7M451.1 352.6h.7M450.3 350.1h.7M449.5 347.6h.7M448.6 345.1h.7M447.7 342.6h.7M402.6 282.1h.7M400.5 280.5h.7M398.4 279.0h.7M453.6 357.4h.7M452.1 352.3h.7M451.4 349.7h.7M450.5 347.2h.7M449.6 344.7h.7M448.7 342.2h.7M403.2 281.9h.7M401.1 280.3h.7M399.0 278.8h.7M455.2 359.6h.7M454.5 357.1h.7M453.8 354.5h.7M453.1 351.9h.7M452.3 349.4h.7M451.5 346.9h.7M450.6 344.4h.7M403.8 281.7h.7M401.7 280.1h.7M399.5 278.6h.7M456.1 359.3h.7M455.4 356.7h.7M454.7 354.1h.7M453.2 349.1h.7M452.3 346.5h.7M451.4 344.0h.7M404.3 281.5h.7M402.2 279.9h.7M400.0 278.5h.7M457.5 361.5h.7M456.9 358.9h.7M455.5 353.8h.7M454.7 351.2h.7M453.9 348.7h.7M453.1 346.2h.7M402.6 279.7h.7M400.4 278.3h.7M398.2 276.8h.7M458.2 361.2h.7M457.6 358.6h.7M456.9 356.0h.7M456.2 353.4h.7M455.4 350.9h.7M453.8 345.9h.7M290.0 271.1h.7M268.2 283.8h.7M274.1 279.3h.7M250.2 291.4h.7M275.3 279.7h.7M271.9 281.8h.7M286.2 274.1h.7M283.9 276.1h.7M271.2 282.3h.7M272.3 280.1h.7M283.9 276.2h.7M282.0 277.0h.7M275.9 278.1h.7M269.2 280.7h.7M309.9 262.3h.7M280.9 276.5h.7M274.5 278.9h.7M310.6 262.8h.7M293.7 271.6h.7M297.8 269.8h.7M263.4 286.6h.7M296.1 270.0h.7M292.7 270.9h.7M260.9 285.5h.7M291.7 270.2h.7M252.9 290.9h.7M284.9 274.6h.7M301.5 267.9h.7M260.8 287.3h.7M302.0 267.7h.7M242.0 296.2h.7M282.9 276.5h.7M259.6 288.0h.7M302.0 266.9h.7M265.3 285.0h.7M307.2 264.7h.7M295.4 269.9h.7M256.0 289.6h.7M292.2 269.9h.7M249.2 292.8h.7M262.7 287.0h.7M293.6 270.7h.7M290.4 271.2h.7M302.5 266.5h.7M288.5 272.2h.7M308.9 263.1h.7M305.6 264.4h.7M305.6 264.4h.7M301.3 266.2h.7M248.1 293.6h.7M292.4 270.2h.7M264.4 284.0h.7M290.0 273.3h.7M300.0 268.4h.7M248.1 292.5h.7M272.4 281.1h.7M254.9 290.6h.7M290.6 271.3h.7M249.4 292.4h.7M287.0 273.1h.7M290.0 272.3h.7M286.5 275.3h.7M270.7 280.9h.7M304.9 265.4h.7M251.5 289.2h.7M246.0 293.7h.7M245.4 295.0h.7M271.8 280.7h.7M252.9 289.1h.7M247.4 291.3h.7M245.4 292.5h.7M272.1 280.4h.7M304.9 266.7h.7M287.7 273.2h.7M275.3 279.0h.7M298.8 268.3h.7M309.3 264.6h.7M246.0 292.5h.7M273.4 280.6h.7M243.1 294.0h.7M290.4 273.0h.7M303.9 264.6h.7M246.2 292.1h.7M285.5 274.4h.7M254.0 288.6h.7M244.7 292.9h.7M278.7 277.0h.7M272.7 281.1h.7M244.6 294.1h.7M296.9 269.9h.7M298.0 268.8h.7M303.0 266.8h.7M250.3 290.3h.7M305.2 263.4h.7M243.8 294.2h.7M252.5 289.4h.7M243.8 293.4h.7M276.1 279.4h.7M297.3 267.7h.7M250.3 291.0h.7M300.4 268.2h.7M264.7 285.2h.7M270.4 282.4h.7M306.1 264.0h.7M241.2 295.9h.7M304.2 267.0h.7M270.6 282.7h.7M254.8 287.9h.7M269.3 280.6h.7M307.1 263.8h.7M253.3 289.6h.7M295.9 268.8h.7M265.9 285.2h.7M249.0 292.0h.7M278.8 279.1h.7M295.1 270.9h.7M279.2 278.1h.7M260.7 287.5h.7M309.0 262.2h.7M288.3 273.4h.7M243.4 293.8h.7M271.1 280.3h.7M264.8 285.5h.7M293.6 271.6h.7M296.2 268.9h.7M282.5 275.4h.7M289.1 273.8h.7M263.9 285.2h.7M247.0 291.4h.7M293.5 271.9h.7M255.8 287.5h.7M251.1 291.4h.7M250.5 291.8h.7M249.6 291.5h.7M250.1 290.9h.7M300.7 266.2h.7M265.2 284.5h.7M247.3 294.1h.7M310.7 260.8h.7M282.9 276.5h.7M292.0 270.2h.7M292.9 271.0h.7M282.4 277.6h.7M303.6 265.0h.7M281.2 276.0h.7M241.2 296.2h.7M274.0 279.9h.7M274.9 280.1h.7M297.6 269.6h.7M308.2 263.9h.7M249.8 290.9h.7M274.4 278.9h.7M295.6 270.0h.7M304.0 265.4h.7M271.0 281.8h.7M296.8 268.4h.7M303.3 265.1h.7M247.9 290.9h.7M252.9 289.5h.7M290.9 271.7h.7M255.7 290.1h.7M248.7 292.0h.7M308.4 262.7h.7M255.5 288.8h.7M265.2 283.0h.7M259.4 286.4h.7M244.6 292.8h.7M249.4 292.0h.7M290.7 271.1h.7M285.3 276.0h.7M273.7 281.7h.7M246.8 294.2h.7M308.2 262.8h.7M248.2 291.9h.7M261.3 285.8h.7M309.1 262.3h.7M265.2 284.0h.7M271.8 280.2h.7M244.7 292.9h.7M302.7 266.7h.7M269.3 280.9h.7M282.3 274.9h.7M295.5 270.2h.7M243.5 293.4h.7M253.1 291.6h.7M306.1 264.3h.7M309.2 261.8h.7M299.9 266.7h.7M258.1 289.1h.7M249.8 292.0h.7M259.5 287.9h.7M262.8 284.4h.7M279.5 278.8h.7M251.7 289.4h.7M276.6 280.0h.7M264.0 286.4h.7M240.8 295.6h.7M290.2 270.8h.7M307.8 264.1h.7M309.9 261.9h.7M280.6 276.4h.7M293.0 271.9h.7M305.1 266.6h.7M269.6 283.2h.7M246.6 291.5h.7M244.0 292.9h.7M307.1 264.1h.7M279.0 278.0h.7M272.1 280.6h.7M276.7 278.1h.7M254.1 288.6h.7M304.9 264.6h.7M301.6 267.6h.7M266.5 282.6h.7M266.0 284.9h.7M310.3 263.2h.7M292.1 270.8h.7M261.1 286.1h.7M304.2 265.2h.7M250.3 290.7h.7M255.2 288.6h.7M308.8 263.4h.7M269.4 281.5h.7M291.5 272.8h.7M294.6 270.9h.7M268.1 283.7h.7M300.2 268.3h.7M242.3 294.5h.7M240.7 295.6h.7M275.4 278.9h.7M248.6 290.9h.7M260.6 287.1h.7M293.6 270.6h.7M284.7 273.5h.7M274.3 279.6h.7M276.7 277.9h.7M281.7 276.9h.7M244.5 293.3h.7M263.6 285.7h.7M252.0 289.9h.7M276.8 277.9h.7M295.2 270.2h.7M294.4 271.0h.7M261.6 284.9h.7M281.9 276.4h.7M277.3 278.2h.7M266.5 282.0h.7M305.4 265.2h.7M248.2 293.1h.7M254.4 290.4h.7M248.4 291.4h.7M306.8 265.8h.7M274.4 279.2h.7M299.3 269.5h.7M256.7 288.9h.7M301.8 267.5h.7M249.9 292.5h.7M296.8 270.4h.7M246.3 293.7h.7M248.5 292.8h.7M249.1 291.9h.7M288.3 273.8h.7M294.5 271.0h.7M304.9 265.9h.7M247.7 294.1h.7M264.7 282.9h.7M257.8 287.8h.7M242.2 296.6h.7" stroke-opacity="0.8"/><path d="M235.7 300.2h.7M237.5 298.3h.7M239.3 296.4h.7M236.1 300.5h.7M237.9 298.5h.7M239.8 296.6h.7M241.6 294.7h.7M243.5 292.9h.7M245.5 291.1h.7M247.4 289.3h.7M249.4 287.6h.7M251.5 285.9h.7M253.5 284.3h.7M255.6 282.6h.7M257.8 281.1h.7M259.9 279.6h.7M236.7 300.8h.7M238.5 298.8h.7M240.3 296.9h.7M242.1 295.0h.7M244.0 293.1h.7M245.9 291.3h.7M247.9 289.6h.7M251.9 286.1h.7M254.0 284.5h.7M256.1 282.9h.7M258.2 281.3h.7M260.3 279.8h.7M262.5 278.3h.7M264.7 276.8h.7M237.3 301.0h.7M239.0 299.1h.7M240.9 297.1h.7M242.7 295.2h.7M244.6 293.4h.7M246.5 291.6h.7M248.4 289.8h.7M252.4 286.4h.7M254.5 284.7h.7M256.6 283.1h.7M258.7 281.5h.7M260.8 280.0h.7M265.2 277.0h.7M239.7 299.3h.7M241.5 297.4h.7M243.3 295.5h.7M245.2 293.6h.7M247.1 291.8h.7M249.0 290.0h.7M253.0 286.6h.7M255.0 284.9h.7M257.1 283.3h.7M259.2 281.7h.7M261.3 280.2h.7M263.5 278.7h.7M242.2 297.7h.7M244.0 295.7h.7M245.9 293.9h.7M247.8 292.0h.7M253.6 286.8h.7M255.6 285.1h.7M257.7 283.5h.7M259.8 281.9h.7M264.0 278.9h.7M291.4 264.4h.7M243.0 297.9h.7M244.8 296.0h.7M246.6 294.1h.7M250.4 290.5h.7M252.3 288.7h.7M254.3 287.0h.7M256.3 285.3h.7M258.3 283.7h.7M260.4 282.1h.7M262.5 280.6h.7M291.8 264.5h.7M294.2 263.6h.7M243.9 298.2h.7M245.6 296.2h.7M247.4 294.4h.7M249.3 292.5h.7M251.2 290.7h.7M253.1 289.0h.7M255.0 287.2h.7M257.0 285.5h.7M259.0 283.9h.7M261.1 282.3h.7M263.1 280.8h.7M265.2 279.2h.7M287.5 266.6h.7M289.8 265.6h.7M292.2 264.7h.7M296.9 262.9h.7M299.3 262.1h.7M248.3 294.6h.7M250.2 292.7h.7M252.0 290.9h.7M253.9 289.2h.7M255.8 287.4h.7M257.8 285.8h.7M259.8 284.1h.7M261.8 282.5h.7M263.8 280.9h.7M265.9 279.4h.7M285.6 267.8h.7M287.9 266.7h.7M290.3 265.7h.7M292.6 264.8h.7M294.9 263.9h.7M297.3 263.0h.7M299.7 262.2h.7M302.1 261.4h.7M247.5 296.7h.7M249.3 294.8h.7M251.1 293.0h.7M252.9 291.2h.7M254.8 289.4h.7M256.7 287.7h.7M258.6 286.0h.7M260.6 284.3h.7M262.6 282.7h.7M264.6 281.1h.7M266.7 279.6h.7M268.7 278.1h.7M288.4 266.9h.7M290.7 265.8h.7M293.0 264.9h.7M295.3 264.0h.7M297.7 263.1h.7M300.0 262.3h.7M302.4 261.5h.7M248.5 297.0h.7M250.3 295.1h.7M252.0 293.2h.7M253.9 291.4h.7M255.7 289.6h.7M257.6 287.9h.7M259.5 286.2h.7M261.4 284.5h.7M263.4 282.9h.7M265.4 281.3h.7M269.5 278.3h.7M271.6 276.9h.7M284.5 269.2h.7M286.7 268.0h.7M288.9 267.0h.7M291.2 266.0h.7M293.5 265.0h.7M295.8 264.1h.7M298.1 263.2h.7M300.4 262.4h.7M302.7 261.6h.7M305.1 260.9h.7M251.3 295.3h.7M253.1 293.4h.7M254.9 291.6h.7M256.7 289.8h.7M260.4 286.4h.7M262.4 284.7h.7M264.3 283.1h.7M266.3 281.5h.7M268.3 280.0h.7M270.3 278.5h.7M272.3 277.0h.7M274.4 275.6h.7M282.9 270.5h.7M285.1 269.3h.7M287.3 268.2h.7M289.5 267.1h.7M291.7 266.1h.7M294.0 265.1h.7M296.2 264.2h.7M298.5 263.3h.7M300.8 262.4h.7M305.4 260.9h.7M307.7 260.3h.7M252.4 295.5h.7M254.2 293.6h.7M255.9 291.8h.7M257.7 290.0h.7M259.6 288.3h.7M261.4 286.6h.7M263.3 284.9h.7M265.2 283.3h.7M267.2 281.7h.7M269.1 280.1h.7M271.1 278.6h.7M273.2 277.2h.7M275.2 275.8h.7M277.3 274.4h.7M279.4 273.1h.7M283.6 270.6h.7M285.7 269.4h.7M287.9 268.3h.7M290.1 267.2h.7M292.3 266.2h.7M294.5 265.2h.7M296.7 264.3h.7M299.0 263.4h.7M301.2 262.5h.7M305.8 261.0h.7M308.1 260.3h.7M255.3 293.9h.7M257.0 292.0h.7M258.8 290.2h.7M262.5 286.8h.7M264.3 285.1h.7M266.2 283.5h.7M270.1 280.3h.7M272.0 278.8h.7M274.0 277.4h.7M276.0 275.9h.7M278.1 274.6h.7M280.1 273.2h.7M282.2 272.0h.7M284.3 270.7h.7M286.4 269.6h.7M288.5 268.4h.7M290.7 267.3h.7M292.9 266.3h.7M295.0 265.3h.7M297.2 264.4h.7M301.7 262.6h.7M303.9 261.8h.7M306.2 261.1h.7M308.4 260.4h.7M310.7 259.8h.7M256.5 294.1h.7M258.2 292.2h.7M260.0 290.4h.7M263.6 287.0h.7M265.4 285.3h.7M267.2 283.6h.7M269.1 282.0h.7M271.0 280.5h.7M273.0 279.0h.7M276.9 276.1h.7M278.9 274.7h.7M280.9 273.4h.7M283.0 272.1h.7M285.0 270.9h.7M287.1 269.7h.7M289.2 268.5h.7M291.3 267.4h.7M293.5 266.4h.7M297.8 264.4h.7M300.0 263.6h.7M302.1 262.7h.7M306.6 261.2h.7M308.8 260.5h.7M311.0 259.8h.7M259.4 292.4h.7M261.2 290.6h.7M262.9 288.9h.7M264.7 287.2h.7M266.5 285.5h.7M268.3 283.8h.7M270.2 282.2h.7M272.0 280.7h.7M273.9 279.1h.7M275.9 277.7h.7M281.8 273.5h.7M283.8 272.2h.7M285.8 271.0h.7M287.9 269.8h.7M289.9 268.7h.7M292.0 267.6h.7M294.1 266.5h.7M296.2 265.5h.7M298.3 264.5h.7M300.5 263.6h.7M302.6 262.8h.7M304.8 262.0h.7M307.0 261.2h.7M309.2 260.5h.7M311.4 259.9h.7M262.4 290.8h.7M264.1 289.1h.7M265.9 287.3h.7M267.6 285.6h.7M269.4 284.0h.7M271.3 282.4h.7M273.1 280.8h.7M275.0 279.3h.7M276.9 277.8h.7M278.8 276.4h.7M280.7 275.0h.7M282.7 273.7h.7M284.6 272.4h.7M288.6 269.9h.7M290.7 268.8h.7M292.7 267.7h.7M294.8 266.6h.7M296.8 265.6h.7M298.9 264.6h.7M301.0 263.7h.7M303.1 262.9h.7M305.3 262.1h.7M307.4 261.3h.7M311.7 259.9h.7M265.4 289.3h.7M267.1 287.5h.7M270.6 284.2h.7M272.4 282.6h.7M274.2 281.0h.7M276.0 279.5h.7M277.9 278.0h.7M279.8 276.5h.7M281.7 275.2h.7M283.6 273.8h.7M285.5 272.5h.7M287.5 271.3h.7M289.4 270.0h.7M291.4 268.9h.7M293.4 267.8h.7M295.5 266.7h.7M297.5 265.7h.7M299.5 264.7h.7M301.6 263.8h.7M303.7 262.9h.7M305.8 262.1h.7M307.9 261.4h.7M310.0 260.7h.7M312.1 260.0h.7M268.4 287.7h.7M270.1 286.0h.7M271.8 284.3h.7M273.6 282.7h.7M275.3 281.2h.7M277.1 279.6h.7M279.0 278.1h.7M280.8 276.7h.7M282.7 275.3h.7M284.5 273.9h.7M286.4 272.6h.7M288.3 271.4h.7M290.3 270.2h.7M292.2 269.0h.7M294.2 267.9h.7M298.2 265.8h.7M300.2 264.8h.7M302.2 263.9h.7M304.2 263.0h.7M306.3 262.2h.7M308.3 261.4h.7M310.4 260.7h.7M312.5 260.0h.7M271.4 286.2h.7M273.1 284.5h.7M274.8 282.9h.7M276.5 281.3h.7M278.3 279.8h.7M280.1 278.3h.7M281.9 276.8h.7M283.7 275.4h.7M285.5 274.1h.7M287.4 272.8h.7M289.3 271.5h.7M291.1 270.3h.7M293.1 269.1h.7M295.0 268.0h.7M296.9 266.9h.7M298.9 265.9h.7M300.8 264.9h.7M302.8 264.0h.7M304.8 263.1h.7M306.8 262.3h.7M308.8 261.5h.7M310.8 260.8h.7M312.9 260.1h.7M274.4 284.7h.7M276.0 283.0h.7M277.7 281.5h.7M279.5 279.9h.7M281.2 278.4h.7M283.0 277.0h.7M284.7 275.6h.7M286.5 274.2h.7M288.4 272.9h.7M290.2 271.6h.7M292.0 270.4h.7M293.9 269.2h.7M295.8 268.1h.7M297.7 267.0h.7M299.6 266.0h.7M301.5 265.0h.7M303.5 264.1h.7M305.4 263.2h.7M307.4 262.3h.7M309.3 261.6h.7M311.3 260.8h.7M313.3 260.1h.7M277.3 283.2h.7M279.0 281.6h.7M280.7 280.1h.7M282.4 278.6h.7M284.1 277.1h.7M285.8 275.7h.7M287.6 274.3h.7M289.4 273.0h.7M291.2 271.7h.7M304.1 264.1h.7M306.0 263.2h.7M307.9 262.4h.7M309.8 261.6h.7M311.8 260.9h.7M313.7 260.2h.7M283.6 278.7h.7M285.3 277.2h.7M287.0 275.8h.7M288.7 274.5h.7M290.4 273.1h.7M306.6 263.3h.7M308.5 262.5h.7M312.3 260.9h.7M314.1 260.2h.7M286.5 277.4h.7M288.1 275.9h.7M289.8 274.6h.7M291.5 273.2h.7M307.3 263.4h.7M309.1 262.5h.7M310.9 261.7h.7M312.8 261.0h.7M314.6 260.3h.7M290.9 274.7h.7M308.0 263.5h.7M309.7 262.6h.7M311.5 261.8h.7M313.3 261.0h.7M315.1 260.3h.7M308.6 263.5h.7M310.4 262.7h.7M312.1 261.9h.7M313.8 261.1h.7M315.5 260.4h.7M309.3 263.6h.7M311.0 262.7h.7M312.7 261.9h.7M314.3 261.1h.7M316.0 260.4h.7M310.1 263.6h.7M311.7 262.8h.7M313.3 262.0h.7M316.5 260.5h.7M310.8 263.7h.7M312.3 262.8h.7M315.5 261.2h.7M317.0 260.5h.7M310.0 264.7h.7M311.5 263.8h.7M313.0 262.9h.7M314.5 262.1h.7M316.0 261.3h.7M317.6 260.6h.7M310.9 264.7h.7M312.3 263.8h.7M313.7 262.9h.7M315.2 262.1h.7M316.6 261.3h.7M314.4 263.0h.7M315.8 262.1h.7M317.2 261.4h.7M349.9 331.3h.7M353.2 333.6h.7M352.9 331.2h.7M352.7 328.8h.7M356.2 333.6h.7M355.9 331.2h.7M355.6 328.8h.7M359.6 335.9h.7M359.2 333.5h.7M358.9 331.1h.7M358.6 328.7h.7M362.6 335.8h.7M362.2 333.4h.7M361.9 331.0h.7M361.5 328.6h.7M361.1 326.3h.7M365.6 335.7h.7M365.2 333.3h.7M364.8 330.9h.7M364.4 328.5h.7M364.0 326.2h.7M369.0 338.1h.7M368.6 335.6h.7M368.1 333.2h.7M367.7 330.8h.7M367.3 328.4h.7M371.5 335.5h.7M371.1 333.1h.7M370.6 330.7h.7M370.1 328.3h.7M369.6 326.0h.7M374.4 335.4h.7M373.5 330.6h.7M372.9 328.2h.7M372.4 325.9h.7M377.3 335.3h.7M376.8 332.9h.7M376.3 330.5h.7M375.7 328.1h.7M379.6 332.7h.7M379.1 330.3h.7M378.5 328.0h.7M401.5 326.5h.7M400.6 324.1h.7M404.8 328.6h.7M403.8 326.3h.7M402.9 323.9h.7M401.9 321.6h.7M400.9 319.3h.7M408.0 330.8h.7M407.1 328.4h.7M406.1 326.1h.7M405.1 323.7h.7M404.2 321.4h.7M403.1 319.1h.7M402.1 316.9h.7M409.3 328.2h.7M408.3 325.8h.7M407.3 323.5h.7M406.3 321.2h.7M404.2 316.7h.7M403.1 314.5h.7M401.9 312.3h.7M400.7 310.1h.7M399.5 308.0h.7M413.4 332.7h.7M411.5 328.0h.7M410.5 325.6h.7M409.5 323.3h.7M408.4 321.0h.7M407.3 318.7h.7M406.2 316.5h.7M405.1 314.3h.7M402.7 309.9h.7M401.4 307.8h.7M400.2 305.7h.7M415.6 332.5h.7M414.6 330.1h.7M413.6 327.7h.7M412.6 325.4h.7M411.6 323.1h.7M410.5 320.8h.7M409.4 318.5h.7M407.0 314.1h.7M405.8 311.9h.7M404.6 309.7h.7M403.3 307.6h.7M402.0 305.5h.7M400.7 303.5h.7M416.7 329.9h.7M415.7 327.5h.7M414.7 325.2h.7M413.6 322.8h.7M411.3 318.3h.7M410.1 316.1h.7M408.9 313.8h.7M407.7 311.7h.7M406.4 309.5h.7M405.1 307.4h.7M403.8 305.3h.7M402.4 303.3h.7M401.0 301.3h.7M420.7 334.4h.7M419.7 332.0h.7M418.7 329.6h.7M417.7 327.3h.7M416.6 324.9h.7M415.5 322.6h.7M414.4 320.3h.7M413.2 318.1h.7M412.0 315.8h.7M409.5 311.5h.7M408.2 309.3h.7M406.9 307.2h.7M404.1 303.1h.7M402.7 301.1h.7M401.3 299.1h.7M422.7 334.2h.7M421.7 331.8h.7M420.7 329.4h.7M419.7 327.0h.7M418.6 324.7h.7M417.4 322.4h.7M416.3 320.1h.7M415.1 317.8h.7M413.8 315.6h.7M412.6 313.4h.7M411.3 311.2h.7M409.9 309.1h.7M408.6 307.0h.7M407.2 304.9h.7M405.8 302.9h.7M404.3 300.9h.7M402.8 298.9h.7M401.3 297.0h.7M423.7 331.5h.7M422.6 329.1h.7M421.5 326.8h.7M420.4 324.4h.7M419.3 322.1h.7M418.1 319.8h.7M415.6 315.4h.7M414.3 313.2h.7M413.0 311.0h.7M411.6 308.9h.7M410.2 306.8h.7M408.8 304.7h.7M407.4 302.7h.7M405.9 300.7h.7M404.4 298.7h.7M402.8 296.8h.7M401.2 294.9h.7M426.5 333.6h.7M425.5 331.2h.7M424.5 328.9h.7M423.4 326.5h.7M422.2 324.2h.7M421.0 321.9h.7M419.8 319.6h.7M418.6 317.3h.7M417.3 315.1h.7M416.0 312.9h.7M414.6 310.8h.7M413.2 308.6h.7M411.8 306.5h.7M410.4 304.5h.7M408.9 302.4h.7M407.4 300.4h.7M405.8 298.5h.7M404.3 296.6h.7M402.6 294.7h.7M401.0 292.8h.7M429.4 335.8h.7M428.4 333.4h.7M427.3 331.0h.7M426.2 328.6h.7M425.1 326.2h.7M421.5 319.3h.7M420.2 317.1h.7M418.9 314.9h.7M417.6 312.7h.7M416.2 310.5h.7M414.8 308.4h.7M413.3 306.3h.7M411.9 304.3h.7M410.4 302.2h.7M408.8 300.2h.7M407.2 298.3h.7M405.6 296.4h.7M404.0 294.5h.7M402.3 292.6h.7M431.1 335.5h.7M430.1 333.1h.7M429.0 330.7h.7M427.9 328.3h.7M426.8 326.0h.7M424.4 321.4h.7M423.1 319.1h.7M421.8 316.8h.7M420.5 314.6h.7M419.1 312.4h.7M417.7 310.3h.7M416.3 308.2h.7M414.8 306.1h.7M413.3 304.0h.7M411.8 302.0h.7M410.2 300.0h.7M408.6 298.1h.7M407.0 296.1h.7M405.3 294.3h.7M403.6 292.4h.7M401.9 290.6h.7M432.8 335.2h.7M431.8 332.8h.7M430.7 330.4h.7M429.6 328.0h.7M428.4 325.7h.7M427.2 323.4h.7M426.0 321.1h.7M424.7 318.8h.7M423.4 316.6h.7M422.0 314.4h.7M420.6 312.2h.7M419.2 310.0h.7M417.7 307.9h.7M416.2 305.8h.7M414.7 303.8h.7M413.1 301.8h.7M411.5 299.8h.7M409.9 297.8h.7M408.2 295.9h.7M406.6 294.1h.7M404.8 292.2h.7M403.1 290.4h.7M434.4 334.9h.7M432.3 330.1h.7M431.1 327.8h.7M429.9 325.4h.7M428.7 323.1h.7M427.5 320.8h.7M426.2 318.6h.7M424.8 316.3h.7M423.4 314.1h.7M422.0 311.9h.7M420.6 309.8h.7M416.0 303.6h.7M414.4 301.5h.7M412.8 299.6h.7M411.2 297.6h.7M409.5 295.7h.7M407.7 293.8h.7M406.0 292.0h.7M404.2 290.2h.7M402.4 288.5h.7M436.0 334.6h.7M434.9 332.2h.7M433.8 329.8h.7M432.6 327.5h.7M431.4 325.1h.7M430.2 322.8h.7M428.9 320.5h.7M427.6 318.3h.7M426.2 316.1h.7M424.8 313.9h.7M423.4 311.7h.7M421.9 309.5h.7M420.4 307.4h.7M418.9 305.4h.7M417.3 303.3h.7M415.7 301.3h.7M412.3 297.4h.7M410.6 295.5h.7M408.9 293.6h.7M407.1 291.8h.7M405.3 290.0h.7M403.5 288.3h.7M437.4 334.3h.7M436.3 331.9h.7M435.2 329.6h.7M434.0 327.2h.7M432.8 324.9h.7M431.5 322.6h.7M430.2 320.3h.7M428.9 318.0h.7M427.5 315.8h.7M426.1 313.6h.7M424.7 311.4h.7M423.2 309.3h.7M421.6 307.2h.7M420.1 305.1h.7M416.8 301.1h.7M415.2 299.1h.7M413.5 297.2h.7M411.7 295.3h.7M410.0 293.4h.7M406.3 289.8h.7M404.5 288.0h.7M402.6 286.3h.7M438.8 334.0h.7M436.5 329.3h.7M435.4 326.9h.7M434.1 324.6h.7M431.5 320.0h.7M430.2 317.7h.7M428.8 315.5h.7M427.3 313.3h.7M425.9 311.2h.7M424.4 309.0h.7M422.8 306.9h.7M421.2 304.9h.7M419.6 302.8h.7M416.3 298.9h.7M412.8 295.0h.7M411.0 293.2h.7M409.2 291.4h.7M407.3 289.6h.7M405.4 287.8h.7M403.5 286.1h.7M442.2 338.6h.7M441.2 336.2h.7M440.1 333.7h.7M439.0 331.3h.7M437.8 329.0h.7M436.6 326.6h.7M435.4 324.3h.7M434.1 322.0h.7M432.7 319.7h.7M431.4 317.5h.7M430.0 315.2h.7M428.5 313.0h.7M427.0 310.9h.7M423.9 306.7h.7M422.3 304.6h.7M417.3 298.6h.7M415.5 296.7h.7M413.8 294.8h.7M412.0 292.9h.7M410.1 291.1h.7M408.2 289.4h.7M406.3 287.6h.7M404.4 285.9h.7M402.4 284.3h.7M443.4 338.3h.7M442.4 335.8h.7M441.3 333.4h.7M440.2 331.0h.7M439.0 328.7h.7M437.8 326.3h.7M436.5 324.0h.7M435.2 321.7h.7M433.9 319.4h.7M432.5 317.2h.7M431.1 315.0h.7M429.6 312.8h.7M428.1 310.6h.7M426.6 308.5h.7M425.0 306.4h.7M423.3 304.3h.7M421.7 302.3h.7M420.0 300.3h.7M418.3 298.4h.7M416.5 296.4h.7M412.9 292.7h.7M411.0 290.9h.7M409.1 289.1h.7M407.2 287.4h.7M405.2 285.7h.7M403.2 284.1h.7M445.6 340.4h.7M444.6 338.0h.7M442.5 333.1h.7M441.3 330.7h.7M440.1 328.3h.7M438.9 326.0h.7M437.6 323.7h.7M436.3 321.4h.7M435.0 319.1h.7M433.5 316.9h.7M432.1 314.7h.7M430.6 312.5h.7M429.1 310.3h.7M427.5 308.2h.7M425.9 306.1h.7M424.3 304.1h.7M422.6 302.1h.7M420.9 300.1h.7M419.2 298.1h.7M417.4 296.2h.7M415.6 294.3h.7M413.7 292.5h.7M411.8 290.7h.7M409.9 288.9h.7M408.0 287.2h.7M406.0 285.5h.7M404.0 283.9h.7M446.7 340.1h.7M445.7 337.6h.7M443.5 332.8h.7M442.4 330.4h.7M441.2 328.0h.7M439.9 325.7h.7M438.6 323.4h.7M437.3 321.1h.7M435.9 318.8h.7M434.5 316.6h.7M433.1 314.4h.7M431.6 312.2h.7M430.0 310.1h.7M426.8 305.9h.7M425.2 303.8h.7M423.5 301.8h.7M421.8 299.8h.7M420.0 297.9h.7M418.2 296.0h.7M416.4 294.1h.7M414.5 292.3h.7M412.6 290.5h.7M410.7 288.7h.7M408.7 287.0h.7M406.7 285.3h.7M404.7 283.7h.7M447.7 339.8h.7M446.7 337.3h.7M445.6 334.9h.7M444.5 332.5h.7M442.1 327.7h.7M440.9 325.4h.7M439.6 323.1h.7M438.2 320.8h.7M436.9 318.5h.7M435.4 316.3h.7M432.4 311.9h.7M430.9 309.8h.7M429.3 307.7h.7M427.7 305.6h.7M426.0 303.5h.7M424.3 301.5h.7M422.6 299.6h.7M420.8 297.6h.7M419.0 295.7h.7M417.1 293.8h.7M415.2 292.0h.7M413.3 290.2h.7M411.3 288.5h.7M409.4 286.8h.7M407.3 285.1h.7M405.3 283.5h.7M449.6 341.9h.7M448.6 339.4h.7M447.6 337.0h.7M445.4 332.2h.7M444.2 329.8h.7M441.7 325.1h.7M440.4 322.8h.7M439.1 320.5h.7M437.7 318.2h.7M436.3 316.0h.7M434.8 313.8h.7M433.2 311.6h.7M431.7 309.5h.7M430.1 307.4h.7M428.4 305.3h.7M426.8 303.3h.7M425.0 301.3h.7M423.3 299.3h.7M421.5 297.4h.7M417.8 293.6h.7M415.9 291.8h.7M413.9 290.0h.7M412.0 288.2h.7M410.0 286.5h.7M407.9 284.9h.7M405.9 283.3h.7M450.5 341.6h.7M449.5 339.1h.7M448.4 336.7h.7M447.3 334.2h.7M446.2 331.8h.7M445.0 329.5h.7M443.8 327.1h.7M442.5 324.8h.7M441.2 322.5h.7M439.9 320.2h.7M438.4 317.9h.7M437.0 315.7h.7M435.5 313.5h.7M434.0 311.3h.7M432.4 309.2h.7M430.8 307.1h.7M429.1 305.0h.7M427.4 303.0h.7M425.7 301.0h.7M423.9 299.0h.7M422.1 297.1h.7M420.3 295.2h.7M418.4 293.4h.7M416.5 291.5h.7M414.5 289.8h.7M412.6 288.0h.7M410.5 286.3h.7M408.5 284.7h.7M406.4 283.0h.7M452.2 343.7h.7M451.2 341.2h.7M450.2 338.8h.7M449.2 336.3h.7M448.1 333.9h.7M446.9 331.5h.7M445.8 329.1h.7M444.5 326.8h.7M443.2 324.5h.7M441.9 322.2h.7M440.5 319.9h.7M439.1 317.6h.7M437.7 315.4h.7M436.2 313.2h.7M434.6 311.1h.7M433.0 308.9h.7M431.4 306.8h.7M429.8 304.8h.7M428.0 302.7h.7M426.3 300.7h.7M424.5 298.8h.7M422.7 296.9h.7M420.8 295.0h.7M419.0 293.1h.7M417.0 291.3h.7M415.1 289.5h.7M413.1 287.8h.7M411.0 286.1h.7M409.0 284.4h.7M406.9 282.8h.7M404.8 281.3h.7M452.9 343.4h.7M451.9 340.9h.7M450.9 338.4h.7M449.8 336.0h.7M448.7 333.6h.7M447.6 331.2h.7M445.1 326.5h.7M443.9 324.1h.7M442.5 321.8h.7M441.1 319.6h.7M439.7 317.3h.7M438.3 315.1h.7M436.8 312.9h.7M435.2 310.8h.7M433.6 308.6h.7M432.0 306.5h.7M430.3 304.5h.7M428.6 302.5h.7M426.8 300.5h.7M425.0 298.5h.7M423.2 296.6h.7M421.3 294.7h.7M419.4 292.9h.7M417.5 291.1h.7M415.5 289.3h.7M413.5 287.6h.7M411.5 285.9h.7M409.4 284.2h.7M407.3 282.6h.7M405.2 281.1h.7M449.3 333.2h.7M446.9 328.5h.7M445.7 326.1h.7M444.4 323.8h.7M441.7 319.3h.7M440.2 317.0h.7M438.8 314.8h.7M437.3 312.6h.7M435.7 310.5h.7M434.1 308.4h.7M432.5 306.3h.7M430.8 304.2h.7" stroke-opacity="1.0"/></g>
<circle cx="331.8" cy="388.0" r="133.7" fill="url(#globeRim)"/>
<circle cx="331.8" cy="388.0" r="152.6" fill="none" stroke="url(#ringStroke)" stroke-width="1.2"/>
<path d="M169.60 304.20 C170.47 308.02 172.44 319.30 174.80 327.10 C177.16 334.90 179.76 342.85 183.75 351.00 C187.74 359.15 192.78 367.83 198.75 376.00 C204.72 384.17 211.27 391.48 219.60 400.00 C227.93 408.52 239.52 419.12 248.75 427.10 C257.98 435.08 266.82 441.48 275.00 447.90 C283.18 454.32 288.45 459.60 297.80 465.60 C307.15 471.60 320.92 478.72 331.10 483.90 C341.28 489.08 348.53 492.72 358.90 496.70 C369.27 500.68 383.48 505.08 393.30 507.80 C403.12 510.52 410.95 511.88 417.80 513.00 C424.65 514.12 427.73 514.63 434.40 514.50 C441.07 514.37 453.90 512.58 457.80 512.20" fill="none" stroke="url(#orb1Stroke)" stroke-width="1.15" stroke-dasharray="0.95 1.05"/>
<path d="M492.70 308.30 C491.90 312.12 490.08 324.30 487.90 331.25 C485.72 338.20 483.77 342.71 479.60 350.00 C475.43 357.29 469.15 366.67 462.90 375.00 C456.65 383.33 449.73 391.92 442.10 400.00 C434.47 408.08 424.12 417.00 417.10 423.50 C410.08 430.00 407.85 432.55 400.00 439.00 C392.15 445.45 381.48 454.72 370.00 462.20 C358.52 469.68 342.22 478.25 331.10 483.90 C319.98 489.55 313.48 492.12 303.30 496.10 C293.12 500.08 281.67 504.75 270.00 507.80 C258.33 510.85 244.60 513.70 233.30 514.40 C222.00 515.10 207.38 512.40 202.20 512.00" fill="none" stroke="#2f6df0" stroke-width="1.15" stroke-dasharray="0.95 1.05"/>
<path d="M290.00 221.00 C288.62 223.33 285.03 229.33 281.70 235.00 C278.37 240.67 272.78 249.03 270.00 255.00 C267.22 260.97 266.80 264.68 265.00 270.80 C263.20 276.92 261.15 285.17 259.20 291.70 C257.25 298.23 254.97 300.28 253.30 310.00 C251.63 319.72 250.17 340.00 249.20 350.00 C248.23 360.00 247.63 361.67 247.50 370.00 C247.37 378.33 247.23 384.83 248.40 400.00 C249.57 415.17 252.75 447.67 254.50 461.00 C256.25 474.33 256.87 471.93 258.90 480.00 C260.93 488.07 264.30 502.37 266.70 509.40 C269.10 516.43 270.50 516.52 273.30 522.20 C276.10 527.88 279.60 537.57 283.50 543.50 C287.40 549.43 293.78 554.72 296.70 557.80 C299.62 560.88 300.28 561.30 301.00 562.00" fill="none" stroke="url(#orb3Stroke)" stroke-width="1.1" stroke-dasharray="0.95 1.05"/>
<path d="M202.90 261.70 C204.25 261.38 208.15 260.29 211.00 259.80 C213.85 259.31 216.42 258.95 220.00 258.75 C223.58 258.55 228.33 258.39 232.50 258.60 C236.67 258.81 240.13 259.27 245.00 260.00 C249.87 260.73 258.92 262.50 261.70 263.00" fill="none" stroke="url(#fA1)" stroke-width="1" stroke-dasharray="0.9 1.0"/>
<path d="M459.80 261.70 C458.50 261.38 454.80 260.29 452.00 259.80 C449.20 259.31 446.58 258.95 443.00 258.75 C439.42 258.55 434.67 258.39 430.50 258.60 C426.33 258.81 422.92 259.27 418.00 260.00 C413.08 260.73 403.83 262.50 401.00 263.00" fill="none" stroke="url(#fA2)" stroke-width="1" stroke-dasharray="0.9 1.0"/>
<path d="M170.50 458.00 C170.70 456.67 170.45 454.33 171.70 450.00 C172.95 445.67 175.57 437.55 178.00 432.00 C180.43 426.45 183.13 421.70 186.25 416.70 C189.37 411.70 194.96 404.45 196.70 402.00" fill="none" stroke="#6f97f5" stroke-opacity="0.22" stroke-width="0.9" stroke-dasharray="0.9 1.2"/>
<path d="M492.20 461.70 C491.83 458.92 491.20 450.28 490.00 445.00 C488.80 439.72 487.08 434.58 485.00 430.00 C482.92 425.42 478.75 419.58 477.50 417.50" fill="none" stroke="#6f97f5" stroke-opacity="0.3" stroke-width="0.9" stroke-dasharray="0.9 1.2"/>
<path d="M361.10 562.20 C362.92 560.17 368.68 554.07 372.00 550.00 C375.32 545.93 378.17 542.30 381.00 537.80 C383.83 533.30 386.58 528.18 389.00 523.00 C391.42 517.82 393.30 513.50 395.50 506.70 C397.70 499.90 400.45 489.65 402.20 482.20 C403.95 474.75 405.37 465.37 406.00 462.00" fill="none" stroke="url(#fD)" stroke-width="0.9" stroke-dasharray="0.9 1.2"/>
<text x="269.10" y="399.65" font-size="32.8" letter-spacing="-0.8" fill="url(#centerText)" class="sans">数据智能</text>
<circle cx="172.0" cy="271.4" r="31.15" fill="url(#nodeFill)" filter="url(#nodeShadow)"/>
<g transform="translate(172.90 271.67)" fill="none" stroke="#fff" stroke-opacity="0.9" stroke-width="1.4" stroke-linecap="round" stroke-linejoin="round">
<path d="M-4.8 9.55H-7A4.7 6.25 0 0 1 -11.7 3.3A4.7 6.25 0 0 1 -7.1 -2.95A7.11 7.11 0 0 1 7.1 -2.95A4.7 6.25 0 0 1 11.7 3.3A4.7 6.25 0 0 1 7 9.55H4.8"/>
<path d="M0.2 7.8V-1.6" stroke-opacity="0.8"/><path d="M-3.9 1.9L0.2 -2.4L4.3 1.9" stroke-width="1.3"/>
</g>
<text x="50.70" y="281.10" font-size="21.8" fill="#3d3d3d" class="sans lbl">数据分析</text>
<circle cx="490.1" cy="275.7" r="31.15" fill="url(#nodeFill)" filter="url(#nodeShadow)"/>
<g transform="translate(491.00 275.97)" fill="none" stroke="#fff" stroke-opacity="0.9" stroke-width="1.4" stroke-linecap="round" stroke-linejoin="round">
<path d="M-4.8 9.55H-7A4.7 6.25 0 0 1 -11.7 3.3A4.7 6.25 0 0 1 -7.1 -2.95A7.11 7.11 0 0 1 7.1 -2.95A4.7 6.25 0 0 1 11.7 3.3A4.7 6.25 0 0 1 7 9.55H4.8"/>
<path d="M0.2 7.8V-1.6" stroke-opacity="0.8"/><path d="M-3.9 1.9L0.2 -2.4L4.3 1.9" stroke-width="1.3"/>
</g>
<text x="524.80" y="280.80" font-size="21.8" fill="#3d3d3d" class="sans lbl">数据库</text>
<circle cx="179.1" cy="489.45" r="31.15" fill="url(#nodeFill)" filter="url(#nodeShadow)"/>
<g transform="translate(180.00 489.72)" fill="none" stroke="#fff" stroke-opacity="0.9" stroke-width="1.4" stroke-linecap="round" stroke-linejoin="round">
<path d="M-4.8 9.55H-7A4.7 6.25 0 0 1 -11.7 3.3A4.7 6.25 0 0 1 -7.1 -2.95A7.11 7.11 0 0 1 7.1 -2.95A4.7 6.25 0 0 1 11.7 3.3A4.7 6.25 0 0 1 7 9.55H4.8"/>
<path d="M0.2 7.8V-1.6" stroke-opacity="0.8"/><path d="M-3.9 1.9L0.2 -2.4L4.3 1.9" stroke-width="1.3"/>
</g>
<text x="55.70" y="500.70" font-size="21.8" fill="#3d3d3d" class="sans lbl">机器智能</text>
<circle cx="485.1" cy="494.3" r="31.15" fill="url(#nodeFill)" filter="url(#nodeShadow)"/>
<g transform="translate(486.00 494.57)" fill="none" stroke="#fff" stroke-opacity="0.9" stroke-width="1.4" stroke-linecap="round" stroke-linejoin="round">
<path d="M-4.8 9.55H-7A4.7 6.25 0 0 1 -11.7 3.3A4.7 6.25 0 0 1 -7.1 -2.95A7.11 7.11 0 0 1 7.1 -2.95A4.7 6.25 0 0 1 11.7 3.3A4.7 6.25 0 0 1 7 9.55H4.8"/>
<path d="M0.2 7.8V-1.6" stroke-opacity="0.8"/><path d="M-3.9 1.9L0.2 -2.4L4.3 1.9" stroke-width="1.3"/>
</g>
<text x="519.90" y="501.00" font-size="21.8" fill="#3d3d3d" class="sans lbl">大数据平台</text>
<circle cx="331.4" cy="573.7" r="31.15" fill="url(#nodeFill)" filter="url(#nodeShadow)"/>
<g transform="translate(332.30 573.97)" fill="none" stroke="#fff" stroke-opacity="0.9" stroke-width="1.4" stroke-linecap="round" stroke-linejoin="round">
<path d="M-4.8 9.55H-7A4.7 6.25 0 0 1 -11.7 3.3A4.7 6.25 0 0 1 -7.1 -2.95A7.11 7.11 0 0 1 7.1 -2.95A4.7 6.25 0 0 1 11.7 3.3A4.7 6.25 0 0 1 7 9.55H4.8"/>
<path d="M0.2 7.8V-1.6" stroke-opacity="0.8"/><path d="M-3.9 1.9L0.2 -2.4L4.3 1.9" stroke-width="1.3"/>
</g>
<text x="286.60" y="634.10" font-size="21.8" fill="#3d3d3d" class="sans lbl">数据分析</text>
</g>
<g transform="translate(603 0)">
<circle cx="331.8" cy="388.0" r="133.7" fill="url(#globeFill)"/>
<use href="#globeDots"/>
<circle cx="331.8" cy="388.0" r="133.7" fill="url(#globeRim)"/>
<circle cx="331.8" cy="388.0" r="152.6" fill="none" stroke="url(#ringStroke)" stroke-width="1.2"/>
<path d="M169.60 304.20 C170.47 308.02 172.44 319.30 174.80 327.10 C177.16 334.90 179.76 342.85 183.75 351.00 C187.74 359.15 192.78 367.83 198.75 376.00 C204.72 384.17 211.27 391.48 219.60 400.00 C227.93 408.52 239.52 419.12 248.75 427.10 C257.98 435.08 266.82 441.48 275.00 447.90 C283.18 454.32 288.45 459.60 297.80 465.60 C307.15 471.60 320.92 478.72 331.10 483.90 C341.28 489.08 348.53 492.72 358.90 496.70 C369.27 500.68 383.48 505.08 393.30 507.80 C403.12 510.52 410.95 511.88 417.80 513.00 C424.65 514.12 427.73 514.63 434.40 514.50 C441.07 514.37 453.90 512.58 457.80 512.20" fill="none" stroke="url(#orb1Stroke)" stroke-width="1.15" stroke-dasharray="0.95 1.05"/>
<path d="M492.70 308.30 C491.90 312.12 490.08 324.30 487.90 331.25 C485.72 338.20 483.77 342.71 479.60 350.00 C475.43 357.29 469.15 366.67 462.90 375.00 C456.65 383.33 449.73 391.92 442.10 400.00 C434.47 408.08 424.12 417.00 417.10 423.50 C410.08 430.00 407.85 432.55 400.00 439.00 C392.15 445.45 381.48 454.72 370.00 462.20 C358.52 469.68 342.22 478.25 331.10 483.90 C319.98 489.55 313.48 492.12 303.30 496.10 C293.12 500.08 281.67 504.75 270.00 507.80 C258.33 510.85 244.60 513.70 233.30 514.40 C222.00 515.10 207.38 512.40 202.20 512.00" fill="none" stroke="#2f6df0" stroke-width="1.15" stroke-dasharray="0.95 1.05"/>
<path d="M290.00 221.00 C288.62 223.33 285.03 229.33 281.70 235.00 C278.37 240.67 272.78 249.03 270.00 255.00 C267.22 260.97 266.80 264.68 265.00 270.80 C263.20 276.92 261.15 285.17 259.20 291.70 C257.25 298.23 254.97 300.28 253.30 310.00 C251.63 319.72 250.17 340.00 249.20 350.00 C248.23 360.00 247.63 361.67 247.50 370.00 C247.37 378.33 247.23 384.83 248.40 400.00 C249.57 415.17 252.75 447.67 254.50 461.00 C256.25 474.33 256.87 471.93 258.90 480.00 C260.93 488.07 264.30 502.37 266.70 509.40 C269.10 516.43 270.50 516.52 273.30 522.20 C276.10 527.88 279.60 537.57 283.50 543.50 C287.40 549.43 293.78 554.72 296.70 557.80 C299.62 560.88 300.28 561.30 301.00 562.00" fill="none" stroke="url(#orb3Stroke)" stroke-width="1.1" stroke-dasharray="0.95 1.05"/>
<path d="M202.90 261.70 C204.25 261.38 208.15 260.29 211.00 259.80 C213.85 259.31 216.42 258.95 220.00 258.75 C223.58 258.55 228.33 258.39 232.50 258.60 C236.67 258.81 240.13 259.27 245.00 260.00 C249.87 260.73 258.92 262.50 261.70 263.00" fill="none" stroke="url(#fA1)" stroke-width="1" stroke-dasharray="0.9 1.0"/>
<path d="M459.80 261.70 C458.50 261.38 454.80 260.29 452.00 259.80 C449.20 259.31 446.58 258.95 443.00 258.75 C439.42 258.55 434.67 258.39 430.50 258.60 C426.33 258.81 422.92 259.27 418.00 260.00 C413.08 260.73 403.83 262.50 401.00 263.00" fill="none" stroke="url(#fA2)" stroke-width="1" stroke-dasharray="0.9 1.0"/>
<path d="M170.50 458.00 C170.70 456.67 170.45 454.33 171.70 450.00 C172.95 445.67 175.57 437.55 178.00 432.00 C180.43 426.45 183.13 421.70 186.25 416.70 C189.37 411.70 194.96 404.45 196.70 402.00" fill="none" stroke="#6f97f5" stroke-opacity="0.22" stroke-width="0.9" stroke-dasharray="0.9 1.2"/>
<path d="M492.20 461.70 C491.83 458.92 491.20 450.28 490.00 445.00 C488.80 439.72 487.08 434.58 485.00 430.00 C482.92 425.42 478.75 419.58 477.50 417.50" fill="none" stroke="#6f97f5" stroke-opacity="0.3" stroke-width="0.9" stroke-dasharray="0.9 1.2"/>
<path d="M361.10 562.20 C362.92 560.17 368.68 554.07 372.00 550.00 C375.32 545.93 378.17 542.30 381.00 537.80 C383.83 533.30 386.58 528.18 389.00 523.00 C391.42 517.82 393.30 513.50 395.50 506.70 C397.70 499.90 400.45 489.65 402.20 482.20 C403.95 474.75 405.37 465.37 406.00 462.00" fill="none" stroke="url(#fD)" stroke-width="0.9" stroke-dasharray="0.9 1.2"/>
<text x="269.10" y="399.65" font-size="32.8" letter-spacing="-0.8" fill="url(#centerText)" class="sans">数据智能</text>
<circle cx="172.0" cy="271.4" r="31.15" fill="url(#nodeFill)" filter="url(#nodeShadow)"/>
<g transform="translate(172.90 271.67)" fill="none" stroke="#fff" stroke-opacity="0.9" stroke-width="1.4" stroke-linecap="round" stroke-linejoin="round">
<path d="M-4.8 9.55H-7A4.7 6.25 0 0 1 -11.7 3.3A4.7 6.25 0 0 1 -7.1 -2.95A7.11 7.11 0 0 1 7.1 -2.95A4.7 6.25 0 0 1 11.7 3.3A4.7 6.25 0 0 1 7 9.55H4.8"/>
<path d="M0.2 7.8V-1.6" stroke-opacity="0.8"/><path d="M-3.9 1.9L0.2 -2.4L4.3 1.9" stroke-width="1.3"/>
</g>
<text x="50.70" y="281.10" font-size="21.8" fill="#3d3d3d" class="sans lbl">数据分析</text>
<circle cx="490.1" cy="275.7" r="31.15" fill="url(#nodeFill)" filter="url(#nodeShadow)"/>
<g transform="translate(491.00 275.97)" fill="none" stroke="#fff" stroke-opacity="0.9" stroke-width="1.4" stroke-linecap="round" stroke-linejoin="round">
<path d="M-4.8 9.55H-7A4.7 6.25 0 0 1 -11.7 3.3A4.7 6.25 0 0 1 -7.1 -2.95A7.11 7.11 0 0 1 7.1 -2.95A4.7 6.25 0 0 1 11.7 3.3A4.7 6.25 0 0 1 7 9.55H4.8"/>
<path d="M0.2 7.8V-1.6" stroke-opacity="0.8"/><path d="M-3.9 1.9L0.2 -2.4L4.3 1.9" stroke-width="1.3"/>
</g>
<text x="524.80" y="280.80" font-size="21.8" fill="#3d3d3d" class="sans lbl">数据库</text>
<circle cx="179.1" cy="489.45" r="31.15" fill="url(#nodeFill)" filter="url(#nodeShadow)"/>
<g transform="translate(180.00 489.72)" fill="none" stroke="#fff" stroke-opacity="0.9" stroke-width="1.4" stroke-linecap="round" stroke-linejoin="round">
<path d="M-4.8 9.55H-7A4.7 6.25 0 0 1 -11.7 3.3A4.7 6.25 0 0 1 -7.1 -2.95A7.11 7.11 0 0 1 7.1 -2.95A4.7 6.25 0 0 1 11.7 3.3A4.7 6.25 0 0 1 7 9.55H4.8"/>
<path d="M0.2 7.8V-1.6" stroke-opacity="0.8"/><path d="M-3.9 1.9L0.2 -2.4L4.3 1.9" stroke-width="1.3"/>
</g>
<text x="55.70" y="500.70" font-size="21.8" fill="#3d3d3d" class="sans lbl">机器智能</text>
<circle cx="485.1" cy="494.3" r="31.15" fill="url(#nodeFill)" filter="url(#nodeShadow)"/>
<g transform="translate(486.00 494.57)" fill="none" stroke="#fff" stroke-opacity="0.9" stroke-width="1.4" stroke-linecap="round" stroke-linejoin="round">
<path d="M-4.8 9.55H-7A4.7 6.25 0 0 1 -11.7 3.3A4.7 6.25 0 0 1 -7.1 -2.95A7.11 7.11 0 0 1 7.1 -2.95A4.7 6.25 0 0 1 11.7 3.3A4.7 6.25 0 0 1 7 9.55H4.8"/>
<path d="M0.2 7.8V-1.6" stroke-opacity="0.8"/><path d="M-3.9 1.9L0.2 -2.4L4.3 1.9" stroke-width="1.3"/>
</g>
<text x="519.90" y="501.00" font-size="21.8" fill="#3d3d3d" class="sans lbl">大数据平台</text>
<circle cx="331.4" cy="573.7" r="31.15" fill="url(#nodeFill)" filter="url(#nodeShadow)"/>
<g transform="translate(332.30 573.97)" fill="none" stroke="#fff" stroke-opacity="0.9" stroke-width="1.4" stroke-linecap="round" stroke-linejoin="round">
<path d="M-4.8 9.55H-7A4.7 6.25 0 0 1 -11.7 3.3A4.7 6.25 0 0 1 -7.1 -2.95A7.11 7.11 0 0 1 7.1 -2.95A4.7 6.25 0 0 1 11.7 3.3A4.7 6.25 0 0 1 7 9.55H4.8"/>
<path d="M0.2 7.8V-1.6" stroke-opacity="0.8"/><path d="M-3.9 1.9L0.2 -2.4L4.3 1.9" stroke-width="1.3"/>
</g>
<text x="286.60" y="634.10" font-size="21.8" fill="#3d3d3d" class="sans lbl">数据分析</text>
</g>
</svg>
</div>
</body>
</html>
